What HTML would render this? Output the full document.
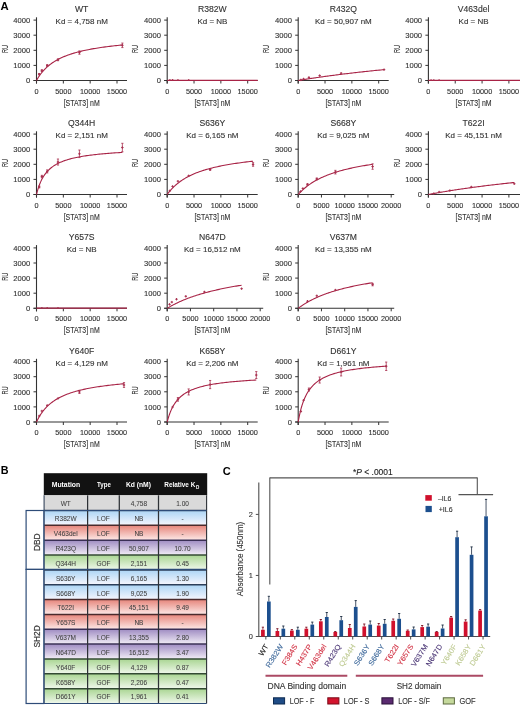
<!DOCTYPE html>
<html><head><meta charset="utf-8"><style>
html,body{margin:0;padding:0;background:#fff;}
svg{display:block;font-family:"Liberation Sans",sans-serif;filter:blur(0.3px);}
</style></head><body>
<svg width="520" height="706" viewBox="0 0 520 706">
<defs><linearGradient id="gg" x1="0" y1="0" x2="0" y2="1"><stop offset="0" stop-color="#dadada"/><stop offset="1" stop-color="#dadada"/></linearGradient><linearGradient id="gb" x1="0" y1="0" x2="0" y2="1"><stop offset="0" stop-color="#acd5f5"/><stop offset="1" stop-color="#f6f6fd"/></linearGradient><linearGradient id="gr" x1="0" y1="0" x2="0" y2="1"><stop offset="0" stop-color="#e6857b"/><stop offset="1" stop-color="#fde9e7"/></linearGradient><linearGradient id="gp" x1="0" y1="0" x2="0" y2="1"><stop offset="0" stop-color="#9f8cc2"/><stop offset="1" stop-color="#f2edf6"/></linearGradient><linearGradient id="gn" x1="0" y1="0" x2="0" y2="1"><stop offset="0" stop-color="#a9d592"/><stop offset="1" stop-color="#f0f8ec"/></linearGradient></defs>
<rect width="520" height="706" fill="#fff"/>
<text x="0.60" y="9.70" font-size="11.3" font-weight="bold" fill="#000">A</text>
<text x="81.70" y="12.00" font-size="8.6" text-anchor="middle" fill="#333" stroke="#333" stroke-width="0.12">WT</text>
<text x="81.70" y="24.00" font-size="8.0" text-anchor="middle" fill="#333" stroke="#333" stroke-width="0.12">Kd = 4,758 nM</text>
<line x1="36.50" y1="83.50" x2="36.50" y2="17.30" stroke="#333" stroke-width="1.1"/>
<line x1="33.50" y1="80.50" x2="36.50" y2="80.50" stroke="#333" stroke-width="1"/>
<text x="30.20" y="83.20" font-size="7.6" text-anchor="end" fill="#333" stroke="#333" stroke-width="0.12">0</text>
<line x1="33.50" y1="65.40" x2="36.50" y2="65.40" stroke="#333" stroke-width="1"/>
<text x="30.20" y="68.10" font-size="7.6" text-anchor="end" fill="#333" stroke="#333" stroke-width="0.12">1000</text>
<line x1="33.50" y1="50.30" x2="36.50" y2="50.30" stroke="#333" stroke-width="1"/>
<text x="30.20" y="53.00" font-size="7.6" text-anchor="end" fill="#333" stroke="#333" stroke-width="0.12">2000</text>
<line x1="33.50" y1="35.20" x2="36.50" y2="35.20" stroke="#333" stroke-width="1"/>
<text x="30.20" y="37.90" font-size="7.6" text-anchor="end" fill="#333" stroke="#333" stroke-width="0.12">3000</text>
<line x1="33.50" y1="20.10" x2="36.50" y2="20.10" stroke="#333" stroke-width="1"/>
<text x="30.20" y="22.80" font-size="7.6" text-anchor="end" fill="#333" stroke="#333" stroke-width="0.12">4000</text>
<line x1="33.50" y1="80.50" x2="127.00" y2="80.50" stroke="#333" stroke-width="1.1"/>
<line x1="36.50" y1="80.50" x2="36.50" y2="83.50" stroke="#333" stroke-width="1"/>
<text x="36.50" y="93.60" font-size="7.3" text-anchor="middle" fill="#333" stroke="#333" stroke-width="0.12">0</text>
<line x1="63.33" y1="80.50" x2="63.33" y2="83.50" stroke="#333" stroke-width="1"/>
<text x="63.33" y="93.60" font-size="7.3" text-anchor="middle" fill="#333" stroke="#333" stroke-width="0.12">5000</text>
<line x1="90.17" y1="80.50" x2="90.17" y2="83.50" stroke="#333" stroke-width="1"/>
<text x="90.17" y="93.60" font-size="7.3" text-anchor="middle" fill="#333" stroke="#333" stroke-width="0.12">10000</text>
<line x1="117.00" y1="80.50" x2="117.00" y2="83.50" stroke="#333" stroke-width="1"/>
<text x="117.00" y="93.60" font-size="7.3" text-anchor="middle" fill="#333" stroke="#333" stroke-width="0.12">15000</text>
<text x="81.70" y="105.50" font-size="8.3" text-anchor="middle" fill="#333" stroke="#333" stroke-width="0.12" textLength="36.0" lengthAdjust="spacingAndGlyphs">[STAT3] nM</text>
<text x="0" y="0" font-size="9.0" fill="#333" stroke="#333" stroke-width="0.12" text-anchor="middle" textLength="8.2" lengthAdjust="spacingAndGlyphs" transform="translate(7.60,48.90) rotate(-90)">RU</text>
<polyline points="36.50,80.50 36.62,80.28 36.84,79.90 37.12,79.40 37.46,78.83 37.84,78.20 38.26,77.52 38.72,76.81 39.22,76.07 39.74,75.31 40.29,74.54 40.88,73.76 41.49,72.97 42.12,72.19 42.79,71.40 43.47,70.62 44.18,69.85 44.91,69.09 45.66,68.34 46.44,67.60 47.23,66.87 48.05,66.16 48.88,65.46 49.74,64.78 50.61,64.11 51.50,63.46 52.41,62.82 53.34,62.20 54.28,61.60 55.24,61.01 56.22,60.43 57.21,59.87 58.22,59.33 59.25,58.80 60.29,58.29 61.35,57.79 62.42,57.30 63.51,56.83 64.61,56.37 65.73,55.92 66.86,55.49 68.00,55.06 69.16,54.65 70.34,54.25 71.52,53.86 72.72,53.49 73.94,53.12 75.17,52.76 76.41,52.42 77.66,52.08 78.93,51.75 80.21,51.43 81.50,51.12 82.80,50.82 84.12,50.52 85.45,50.23 86.79,49.95 88.14,49.68 89.51,49.42 90.88,49.16 92.27,48.91 93.67,48.66 95.08,48.43 96.51,48.19 97.94,47.97 99.39,47.74 100.84,47.53 102.31,47.32 103.79,47.11 105.28,46.91 106.78,46.72 108.29,46.53 109.81,46.34 111.35,46.16 112.89,45.98 114.44,45.81 116.01,45.64 117.58,45.48 119.17,45.31 120.76,45.16 122.37,45.00" fill="none" stroke="#a82346" stroke-width="1.1"/>
<line x1="39.18" y1="73.55" x2="39.18" y2="74.76" stroke="#a8304f" stroke-width="0.8"/>
<line x1="38.08" y1="73.55" x2="40.28" y2="73.55" stroke="#a8304f" stroke-width="0.8"/>
<line x1="38.08" y1="74.76" x2="40.28" y2="74.76" stroke="#a8304f" stroke-width="0.8"/>
<line x1="37.98" y1="74.16" x2="40.38" y2="74.16" stroke="#a8304f" stroke-width="1.0"/>
<line x1="39.18" y1="72.96" x2="39.18" y2="75.36" stroke="#a8304f" stroke-width="1.0"/>
<line x1="41.87" y1="69.78" x2="41.87" y2="71.59" stroke="#a8304f" stroke-width="0.8"/>
<line x1="40.77" y1="69.78" x2="42.97" y2="69.78" stroke="#a8304f" stroke-width="0.8"/>
<line x1="40.77" y1="71.59" x2="42.97" y2="71.59" stroke="#a8304f" stroke-width="0.8"/>
<line x1="40.67" y1="70.69" x2="43.07" y2="70.69" stroke="#a8304f" stroke-width="1.0"/>
<line x1="41.87" y1="69.48" x2="41.87" y2="71.89" stroke="#a8304f" stroke-width="1.0"/>
<line x1="47.23" y1="64.64" x2="47.23" y2="66.46" stroke="#a8304f" stroke-width="0.8"/>
<line x1="46.13" y1="64.64" x2="48.33" y2="64.64" stroke="#a8304f" stroke-width="0.8"/>
<line x1="46.13" y1="66.46" x2="48.33" y2="66.46" stroke="#a8304f" stroke-width="0.8"/>
<line x1="46.03" y1="65.55" x2="48.43" y2="65.55" stroke="#a8304f" stroke-width="1.0"/>
<line x1="47.23" y1="64.35" x2="47.23" y2="66.75" stroke="#a8304f" stroke-width="1.0"/>
<line x1="57.97" y1="58.91" x2="57.97" y2="60.72" stroke="#a8304f" stroke-width="0.8"/>
<line x1="56.87" y1="58.91" x2="59.07" y2="58.91" stroke="#a8304f" stroke-width="0.8"/>
<line x1="56.87" y1="60.72" x2="59.07" y2="60.72" stroke="#a8304f" stroke-width="0.8"/>
<line x1="56.77" y1="59.81" x2="59.17" y2="59.81" stroke="#a8304f" stroke-width="1.0"/>
<line x1="57.97" y1="58.61" x2="57.97" y2="61.01" stroke="#a8304f" stroke-width="1.0"/>
<line x1="79.43" y1="50.90" x2="79.43" y2="54.23" stroke="#a8304f" stroke-width="0.8"/>
<line x1="78.33" y1="50.90" x2="80.53" y2="50.90" stroke="#a8304f" stroke-width="0.8"/>
<line x1="78.33" y1="54.23" x2="80.53" y2="54.23" stroke="#a8304f" stroke-width="0.8"/>
<line x1="78.23" y1="52.56" x2="80.63" y2="52.56" stroke="#a8304f" stroke-width="1.0"/>
<line x1="79.43" y1="51.36" x2="79.43" y2="53.77" stroke="#a8304f" stroke-width="1.0"/>
<line x1="122.37" y1="43.05" x2="122.37" y2="47.58" stroke="#a8304f" stroke-width="0.8"/>
<line x1="121.27" y1="43.05" x2="123.47" y2="43.05" stroke="#a8304f" stroke-width="0.8"/>
<line x1="121.27" y1="47.58" x2="123.47" y2="47.58" stroke="#a8304f" stroke-width="0.8"/>
<line x1="121.17" y1="45.32" x2="123.57" y2="45.32" stroke="#a8304f" stroke-width="1.0"/>
<line x1="122.37" y1="44.12" x2="122.37" y2="46.52" stroke="#a8304f" stroke-width="1.0"/>
<text x="212.40" y="12.00" font-size="8.6" text-anchor="middle" fill="#333" stroke="#333" stroke-width="0.12">R382W</text>
<text x="212.40" y="24.00" font-size="8.0" text-anchor="middle" fill="#333" stroke="#333" stroke-width="0.12">Kd = NB</text>
<line x1="167.20" y1="83.50" x2="167.20" y2="17.30" stroke="#333" stroke-width="1.1"/>
<line x1="164.20" y1="80.50" x2="167.20" y2="80.50" stroke="#333" stroke-width="1"/>
<text x="160.90" y="83.20" font-size="7.6" text-anchor="end" fill="#333" stroke="#333" stroke-width="0.12">0</text>
<line x1="164.20" y1="65.40" x2="167.20" y2="65.40" stroke="#333" stroke-width="1"/>
<text x="160.90" y="68.10" font-size="7.6" text-anchor="end" fill="#333" stroke="#333" stroke-width="0.12">1000</text>
<line x1="164.20" y1="50.30" x2="167.20" y2="50.30" stroke="#333" stroke-width="1"/>
<text x="160.90" y="53.00" font-size="7.6" text-anchor="end" fill="#333" stroke="#333" stroke-width="0.12">2000</text>
<line x1="164.20" y1="35.20" x2="167.20" y2="35.20" stroke="#333" stroke-width="1"/>
<text x="160.90" y="37.90" font-size="7.6" text-anchor="end" fill="#333" stroke="#333" stroke-width="0.12">3000</text>
<line x1="164.20" y1="20.10" x2="167.20" y2="20.10" stroke="#333" stroke-width="1"/>
<text x="160.90" y="22.80" font-size="7.6" text-anchor="end" fill="#333" stroke="#333" stroke-width="0.12">4000</text>
<line x1="164.20" y1="80.50" x2="257.70" y2="80.50" stroke="#333" stroke-width="1.1"/>
<line x1="167.20" y1="80.50" x2="167.20" y2="83.50" stroke="#333" stroke-width="1"/>
<text x="167.20" y="93.60" font-size="7.3" text-anchor="middle" fill="#333" stroke="#333" stroke-width="0.12">0</text>
<line x1="194.03" y1="80.50" x2="194.03" y2="83.50" stroke="#333" stroke-width="1"/>
<text x="194.03" y="93.60" font-size="7.3" text-anchor="middle" fill="#333" stroke="#333" stroke-width="0.12">5000</text>
<line x1="220.87" y1="80.50" x2="220.87" y2="83.50" stroke="#333" stroke-width="1"/>
<text x="220.87" y="93.60" font-size="7.3" text-anchor="middle" fill="#333" stroke="#333" stroke-width="0.12">10000</text>
<line x1="247.70" y1="80.50" x2="247.70" y2="83.50" stroke="#333" stroke-width="1"/>
<text x="247.70" y="93.60" font-size="7.3" text-anchor="middle" fill="#333" stroke="#333" stroke-width="0.12">15000</text>
<text x="212.40" y="105.50" font-size="8.3" text-anchor="middle" fill="#333" stroke="#333" stroke-width="0.12" textLength="36.0" lengthAdjust="spacingAndGlyphs">[STAT3] nM</text>
<text x="0" y="0" font-size="9.0" fill="#333" stroke="#333" stroke-width="0.12" text-anchor="middle" textLength="8.2" lengthAdjust="spacingAndGlyphs" transform="translate(138.30,48.90) rotate(-90)">RU</text>
<line x1="167.20" y1="80.30" x2="257.70" y2="80.30" stroke="#a82346" stroke-width="1.2"/>
<rect x="169.18" y="79.20" width="1.40" height="1.40" fill="#a8304f"/>
<rect x="171.87" y="79.05" width="1.40" height="1.40" fill="#a8304f"/>
<rect x="177.23" y="79.20" width="1.40" height="1.40" fill="#a8304f"/>
<rect x="187.97" y="79.20" width="1.40" height="1.40" fill="#a8304f"/>
<text x="343.40" y="12.00" font-size="8.6" text-anchor="middle" fill="#333" stroke="#333" stroke-width="0.12">R432Q</text>
<text x="343.40" y="24.00" font-size="8.0" text-anchor="middle" fill="#333" stroke="#333" stroke-width="0.12">Kd = 50,907 nM</text>
<line x1="298.20" y1="83.50" x2="298.20" y2="17.30" stroke="#333" stroke-width="1.1"/>
<line x1="295.20" y1="80.50" x2="298.20" y2="80.50" stroke="#333" stroke-width="1"/>
<text x="291.90" y="83.20" font-size="7.6" text-anchor="end" fill="#333" stroke="#333" stroke-width="0.12">0</text>
<line x1="295.20" y1="65.40" x2="298.20" y2="65.40" stroke="#333" stroke-width="1"/>
<text x="291.90" y="68.10" font-size="7.6" text-anchor="end" fill="#333" stroke="#333" stroke-width="0.12">1000</text>
<line x1="295.20" y1="50.30" x2="298.20" y2="50.30" stroke="#333" stroke-width="1"/>
<text x="291.90" y="53.00" font-size="7.6" text-anchor="end" fill="#333" stroke="#333" stroke-width="0.12">2000</text>
<line x1="295.20" y1="35.20" x2="298.20" y2="35.20" stroke="#333" stroke-width="1"/>
<text x="291.90" y="37.90" font-size="7.6" text-anchor="end" fill="#333" stroke="#333" stroke-width="0.12">3000</text>
<line x1="295.20" y1="20.10" x2="298.20" y2="20.10" stroke="#333" stroke-width="1"/>
<text x="291.90" y="22.80" font-size="7.6" text-anchor="end" fill="#333" stroke="#333" stroke-width="0.12">4000</text>
<line x1="295.20" y1="80.50" x2="388.70" y2="80.50" stroke="#333" stroke-width="1.1"/>
<line x1="298.20" y1="80.50" x2="298.20" y2="83.50" stroke="#333" stroke-width="1"/>
<text x="298.20" y="93.60" font-size="7.3" text-anchor="middle" fill="#333" stroke="#333" stroke-width="0.12">0</text>
<line x1="325.03" y1="80.50" x2="325.03" y2="83.50" stroke="#333" stroke-width="1"/>
<text x="325.03" y="93.60" font-size="7.3" text-anchor="middle" fill="#333" stroke="#333" stroke-width="0.12">5000</text>
<line x1="351.87" y1="80.50" x2="351.87" y2="83.50" stroke="#333" stroke-width="1"/>
<text x="351.87" y="93.60" font-size="7.3" text-anchor="middle" fill="#333" stroke="#333" stroke-width="0.12">10000</text>
<line x1="378.70" y1="80.50" x2="378.70" y2="83.50" stroke="#333" stroke-width="1"/>
<text x="378.70" y="93.60" font-size="7.3" text-anchor="middle" fill="#333" stroke="#333" stroke-width="0.12">15000</text>
<text x="343.40" y="105.50" font-size="8.3" text-anchor="middle" fill="#333" stroke="#333" stroke-width="0.12" textLength="36.0" lengthAdjust="spacingAndGlyphs">[STAT3] nM</text>
<text x="0" y="0" font-size="9.0" fill="#333" stroke="#333" stroke-width="0.12" text-anchor="middle" textLength="8.2" lengthAdjust="spacingAndGlyphs" transform="translate(269.30,48.90) rotate(-90)">RU</text>
<polyline points="298.20,80.50 298.32,80.48 298.54,80.44 298.82,80.40 299.16,80.34 299.54,80.28 299.96,80.21 300.42,80.13 300.92,80.05 301.44,79.97 301.99,79.88 302.58,79.78 303.19,79.68 303.82,79.58 304.49,79.48 305.17,79.37 305.88,79.26 306.61,79.14 307.36,79.02 308.14,78.90 308.93,78.78 309.75,78.66 310.58,78.53 311.44,78.40 312.31,78.27 313.20,78.13 314.11,78.00 315.04,77.86 315.98,77.72 316.94,77.58 317.92,77.44 318.91,77.30 319.92,77.15 320.95,77.01 321.99,76.86 323.05,76.71 324.12,76.56 325.21,76.41 326.31,76.26 327.43,76.11 328.56,75.95 329.70,75.80 330.86,75.64 332.04,75.49 333.22,75.33 334.42,75.18 335.64,75.02 336.87,74.86 338.11,74.71 339.36,74.55 340.63,74.39 341.91,74.23 343.20,74.07 344.50,73.91 345.82,73.75 347.15,73.59 348.49,73.43 349.84,73.27 351.21,73.11 352.58,72.95 353.97,72.79 355.37,72.63 356.78,72.47 358.21,72.31 359.64,72.15 361.09,71.99 362.54,71.83 364.01,71.67 365.49,71.51 366.98,71.36 368.48,71.20 369.99,71.04 371.51,70.88 373.05,70.72 374.59,70.57 376.14,70.41 377.71,70.25 379.28,70.09 380.87,69.94 382.46,69.78 384.07,69.63" fill="none" stroke="#a82346" stroke-width="1.1"/>
<line x1="299.68" y1="79.90" x2="302.08" y2="79.90" stroke="#a8304f" stroke-width="1.0"/>
<line x1="300.88" y1="78.70" x2="300.88" y2="81.10" stroke="#a8304f" stroke-width="1.0"/>
<line x1="302.37" y1="78.99" x2="304.77" y2="78.99" stroke="#a8304f" stroke-width="1.0"/>
<line x1="303.57" y1="77.79" x2="303.57" y2="80.19" stroke="#a8304f" stroke-width="1.0"/>
<line x1="307.73" y1="77.40" x2="310.13" y2="77.40" stroke="#a8304f" stroke-width="1.0"/>
<line x1="308.93" y1="76.20" x2="308.93" y2="78.60" stroke="#a8304f" stroke-width="1.0"/>
<line x1="318.47" y1="75.59" x2="320.87" y2="75.59" stroke="#a8304f" stroke-width="1.0"/>
<line x1="319.67" y1="74.39" x2="319.67" y2="76.79" stroke="#a8304f" stroke-width="1.0"/>
<line x1="339.93" y1="73.21" x2="342.33" y2="73.21" stroke="#a8304f" stroke-width="1.0"/>
<line x1="341.13" y1="72.01" x2="341.13" y2="74.41" stroke="#a8304f" stroke-width="1.0"/>
<line x1="382.87" y1="69.63" x2="385.27" y2="69.63" stroke="#a8304f" stroke-width="1.0"/>
<line x1="384.07" y1="68.43" x2="384.07" y2="70.83" stroke="#a8304f" stroke-width="1.0"/>
<text x="473.60" y="12.00" font-size="8.6" text-anchor="middle" fill="#333" stroke="#333" stroke-width="0.12">V463del</text>
<text x="473.60" y="24.00" font-size="8.0" text-anchor="middle" fill="#333" stroke="#333" stroke-width="0.12">Kd = NB</text>
<line x1="428.40" y1="83.50" x2="428.40" y2="17.30" stroke="#333" stroke-width="1.1"/>
<line x1="425.40" y1="80.50" x2="428.40" y2="80.50" stroke="#333" stroke-width="1"/>
<text x="422.10" y="83.20" font-size="7.6" text-anchor="end" fill="#333" stroke="#333" stroke-width="0.12">0</text>
<line x1="425.40" y1="65.40" x2="428.40" y2="65.40" stroke="#333" stroke-width="1"/>
<text x="422.10" y="68.10" font-size="7.6" text-anchor="end" fill="#333" stroke="#333" stroke-width="0.12">1000</text>
<line x1="425.40" y1="50.30" x2="428.40" y2="50.30" stroke="#333" stroke-width="1"/>
<text x="422.10" y="53.00" font-size="7.6" text-anchor="end" fill="#333" stroke="#333" stroke-width="0.12">2000</text>
<line x1="425.40" y1="35.20" x2="428.40" y2="35.20" stroke="#333" stroke-width="1"/>
<text x="422.10" y="37.90" font-size="7.6" text-anchor="end" fill="#333" stroke="#333" stroke-width="0.12">3000</text>
<line x1="425.40" y1="20.10" x2="428.40" y2="20.10" stroke="#333" stroke-width="1"/>
<text x="422.10" y="22.80" font-size="7.6" text-anchor="end" fill="#333" stroke="#333" stroke-width="0.12">4000</text>
<line x1="425.40" y1="80.50" x2="523.40" y2="80.50" stroke="#333" stroke-width="1.1"/>
<line x1="428.40" y1="80.50" x2="428.40" y2="83.50" stroke="#333" stroke-width="1"/>
<text x="428.40" y="93.60" font-size="7.3" text-anchor="middle" fill="#333" stroke="#333" stroke-width="0.12">0</text>
<line x1="455.23" y1="80.50" x2="455.23" y2="83.50" stroke="#333" stroke-width="1"/>
<text x="455.23" y="93.60" font-size="7.3" text-anchor="middle" fill="#333" stroke="#333" stroke-width="0.12">5000</text>
<line x1="482.07" y1="80.50" x2="482.07" y2="83.50" stroke="#333" stroke-width="1"/>
<text x="482.07" y="93.60" font-size="7.3" text-anchor="middle" fill="#333" stroke="#333" stroke-width="0.12">10000</text>
<line x1="508.90" y1="80.50" x2="508.90" y2="83.50" stroke="#333" stroke-width="1"/>
<text x="508.90" y="93.60" font-size="7.3" text-anchor="middle" fill="#333" stroke="#333" stroke-width="0.12">15000</text>
<text x="473.60" y="105.50" font-size="8.3" text-anchor="middle" fill="#333" stroke="#333" stroke-width="0.12" textLength="36.0" lengthAdjust="spacingAndGlyphs">[STAT3] nM</text>
<text x="0" y="0" font-size="9.0" fill="#333" stroke="#333" stroke-width="0.12" text-anchor="middle" textLength="8.2" lengthAdjust="spacingAndGlyphs" transform="translate(399.50,48.90) rotate(-90)">RU</text>
<line x1="428.40" y1="80.30" x2="523.40" y2="80.30" stroke="#a82346" stroke-width="1.2"/>
<rect x="430.38" y="79.35" width="1.40" height="1.40" fill="#a8304f"/>
<rect x="433.07" y="79.35" width="1.40" height="1.40" fill="#a8304f"/>
<rect x="438.43" y="79.35" width="1.40" height="1.40" fill="#a8304f"/>
<text x="81.70" y="126.00" font-size="8.6" text-anchor="middle" fill="#333" stroke="#333" stroke-width="0.12">Q344H</text>
<text x="81.70" y="138.00" font-size="8.0" text-anchor="middle" fill="#333" stroke="#333" stroke-width="0.12">Kd = 2,151 nM</text>
<line x1="36.50" y1="197.50" x2="36.50" y2="131.30" stroke="#333" stroke-width="1.1"/>
<line x1="33.50" y1="194.50" x2="36.50" y2="194.50" stroke="#333" stroke-width="1"/>
<text x="30.20" y="197.20" font-size="7.6" text-anchor="end" fill="#333" stroke="#333" stroke-width="0.12">0</text>
<line x1="33.50" y1="179.40" x2="36.50" y2="179.40" stroke="#333" stroke-width="1"/>
<text x="30.20" y="182.10" font-size="7.6" text-anchor="end" fill="#333" stroke="#333" stroke-width="0.12">1000</text>
<line x1="33.50" y1="164.30" x2="36.50" y2="164.30" stroke="#333" stroke-width="1"/>
<text x="30.20" y="167.00" font-size="7.6" text-anchor="end" fill="#333" stroke="#333" stroke-width="0.12">2000</text>
<line x1="33.50" y1="149.20" x2="36.50" y2="149.20" stroke="#333" stroke-width="1"/>
<text x="30.20" y="151.90" font-size="7.6" text-anchor="end" fill="#333" stroke="#333" stroke-width="0.12">3000</text>
<line x1="33.50" y1="134.10" x2="36.50" y2="134.10" stroke="#333" stroke-width="1"/>
<text x="30.20" y="136.80" font-size="7.6" text-anchor="end" fill="#333" stroke="#333" stroke-width="0.12">4000</text>
<line x1="33.50" y1="194.50" x2="127.00" y2="194.50" stroke="#333" stroke-width="1.1"/>
<line x1="36.50" y1="194.50" x2="36.50" y2="197.50" stroke="#333" stroke-width="1"/>
<text x="36.50" y="207.60" font-size="7.3" text-anchor="middle" fill="#333" stroke="#333" stroke-width="0.12">0</text>
<line x1="63.33" y1="194.50" x2="63.33" y2="197.50" stroke="#333" stroke-width="1"/>
<text x="63.33" y="207.60" font-size="7.3" text-anchor="middle" fill="#333" stroke="#333" stroke-width="0.12">5000</text>
<line x1="90.17" y1="194.50" x2="90.17" y2="197.50" stroke="#333" stroke-width="1"/>
<text x="90.17" y="207.60" font-size="7.3" text-anchor="middle" fill="#333" stroke="#333" stroke-width="0.12">10000</text>
<line x1="117.00" y1="194.50" x2="117.00" y2="197.50" stroke="#333" stroke-width="1"/>
<text x="117.00" y="207.60" font-size="7.3" text-anchor="middle" fill="#333" stroke="#333" stroke-width="0.12">15000</text>
<text x="81.70" y="219.50" font-size="8.3" text-anchor="middle" fill="#333" stroke="#333" stroke-width="0.12" textLength="36.0" lengthAdjust="spacingAndGlyphs">[STAT3] nM</text>
<text x="0" y="0" font-size="9.0" fill="#333" stroke="#333" stroke-width="0.12" text-anchor="middle" textLength="8.2" lengthAdjust="spacingAndGlyphs" transform="translate(7.60,162.90) rotate(-90)">RU</text>
<polyline points="36.50,194.50 36.62,194.01 36.84,193.14 37.12,192.05 37.46,190.83 37.84,189.53 38.26,188.17 38.72,186.79 39.22,185.40 39.74,184.03 40.29,182.68 40.88,181.37 41.49,180.09 42.12,178.85 42.79,177.66 43.47,176.52 44.18,175.42 44.91,174.37 45.66,173.36 46.44,172.40 47.23,171.49 48.05,170.61 48.88,169.78 49.74,168.99 50.61,168.23 51.50,167.51 52.41,166.82 53.34,166.17 54.28,165.54 55.24,164.94 56.22,164.37 57.21,163.83 58.22,163.31 59.25,162.82 60.29,162.34 61.35,161.89 62.42,161.46 63.51,161.04 64.61,160.64 65.73,160.26 66.86,159.90 68.00,159.55 69.16,159.21 70.34,158.89 71.52,158.58 72.72,158.28 73.94,157.99 75.17,157.72 76.41,157.45 77.66,157.20 78.93,156.95 80.21,156.72 81.50,156.49 82.80,156.27 84.12,156.06 85.45,155.85 86.79,155.66 88.14,155.46 89.51,155.28 90.88,155.10 92.27,154.93 93.67,154.76 95.08,154.60 96.51,154.44 97.94,154.29 99.39,154.15 100.84,154.00 102.31,153.87 103.79,153.73 105.28,153.60 106.78,153.48 108.29,153.35 109.81,153.24 111.35,153.12 112.89,153.01 114.44,152.90 116.01,152.79 117.58,152.69 119.17,152.59 120.76,152.49 122.37,152.40" fill="none" stroke="#a82346" stroke-width="1.1"/>
<line x1="39.18" y1="186.04" x2="39.18" y2="187.86" stroke="#a8304f" stroke-width="0.8"/>
<line x1="38.08" y1="186.04" x2="40.28" y2="186.04" stroke="#a8304f" stroke-width="0.8"/>
<line x1="38.08" y1="187.86" x2="40.28" y2="187.86" stroke="#a8304f" stroke-width="0.8"/>
<line x1="37.98" y1="186.95" x2="40.38" y2="186.95" stroke="#a8304f" stroke-width="1.0"/>
<line x1="39.18" y1="185.75" x2="39.18" y2="188.15" stroke="#a8304f" stroke-width="1.0"/>
<line x1="41.87" y1="175.32" x2="41.87" y2="177.74" stroke="#a8304f" stroke-width="0.8"/>
<line x1="40.77" y1="175.32" x2="42.97" y2="175.32" stroke="#a8304f" stroke-width="0.8"/>
<line x1="40.77" y1="177.74" x2="42.97" y2="177.74" stroke="#a8304f" stroke-width="0.8"/>
<line x1="40.67" y1="176.53" x2="43.07" y2="176.53" stroke="#a8304f" stroke-width="1.0"/>
<line x1="41.87" y1="175.33" x2="41.87" y2="177.73" stroke="#a8304f" stroke-width="1.0"/>
<line x1="47.23" y1="169.89" x2="47.23" y2="172.91" stroke="#a8304f" stroke-width="0.8"/>
<line x1="46.13" y1="169.89" x2="48.33" y2="169.89" stroke="#a8304f" stroke-width="0.8"/>
<line x1="46.13" y1="172.91" x2="48.33" y2="172.91" stroke="#a8304f" stroke-width="0.8"/>
<line x1="46.03" y1="171.40" x2="48.43" y2="171.40" stroke="#a8304f" stroke-width="1.0"/>
<line x1="47.23" y1="170.20" x2="47.23" y2="172.60" stroke="#a8304f" stroke-width="1.0"/>
<line x1="57.97" y1="159.01" x2="57.97" y2="165.06" stroke="#a8304f" stroke-width="0.8"/>
<line x1="56.87" y1="159.01" x2="59.07" y2="159.01" stroke="#a8304f" stroke-width="0.8"/>
<line x1="56.87" y1="165.06" x2="59.07" y2="165.06" stroke="#a8304f" stroke-width="0.8"/>
<line x1="56.77" y1="162.03" x2="59.17" y2="162.03" stroke="#a8304f" stroke-width="1.0"/>
<line x1="57.97" y1="160.84" x2="57.97" y2="163.23" stroke="#a8304f" stroke-width="1.0"/>
<line x1="79.43" y1="150.03" x2="79.43" y2="157.58" stroke="#a8304f" stroke-width="0.8"/>
<line x1="78.33" y1="150.03" x2="80.53" y2="150.03" stroke="#a8304f" stroke-width="0.8"/>
<line x1="78.33" y1="157.58" x2="80.53" y2="157.58" stroke="#a8304f" stroke-width="0.8"/>
<line x1="78.23" y1="153.81" x2="80.63" y2="153.81" stroke="#a8304f" stroke-width="1.0"/>
<line x1="79.43" y1="152.61" x2="79.43" y2="155.01" stroke="#a8304f" stroke-width="1.0"/>
<line x1="122.37" y1="143.31" x2="122.37" y2="151.77" stroke="#a8304f" stroke-width="0.8"/>
<line x1="121.27" y1="143.31" x2="123.47" y2="143.31" stroke="#a8304f" stroke-width="0.8"/>
<line x1="121.27" y1="151.77" x2="123.47" y2="151.77" stroke="#a8304f" stroke-width="0.8"/>
<line x1="121.17" y1="147.54" x2="123.57" y2="147.54" stroke="#a8304f" stroke-width="1.0"/>
<line x1="122.37" y1="146.34" x2="122.37" y2="148.74" stroke="#a8304f" stroke-width="1.0"/>
<text x="212.40" y="126.00" font-size="8.6" text-anchor="middle" fill="#333" stroke="#333" stroke-width="0.12">S636Y</text>
<text x="212.40" y="138.00" font-size="8.0" text-anchor="middle" fill="#333" stroke="#333" stroke-width="0.12">Kd = 6,165 nM</text>
<line x1="167.20" y1="197.50" x2="167.20" y2="131.30" stroke="#333" stroke-width="1.1"/>
<line x1="164.20" y1="194.50" x2="167.20" y2="194.50" stroke="#333" stroke-width="1"/>
<text x="160.90" y="197.20" font-size="7.6" text-anchor="end" fill="#333" stroke="#333" stroke-width="0.12">0</text>
<line x1="164.20" y1="179.40" x2="167.20" y2="179.40" stroke="#333" stroke-width="1"/>
<text x="160.90" y="182.10" font-size="7.6" text-anchor="end" fill="#333" stroke="#333" stroke-width="0.12">1000</text>
<line x1="164.20" y1="164.30" x2="167.20" y2="164.30" stroke="#333" stroke-width="1"/>
<text x="160.90" y="167.00" font-size="7.6" text-anchor="end" fill="#333" stroke="#333" stroke-width="0.12">2000</text>
<line x1="164.20" y1="149.20" x2="167.20" y2="149.20" stroke="#333" stroke-width="1"/>
<text x="160.90" y="151.90" font-size="7.6" text-anchor="end" fill="#333" stroke="#333" stroke-width="0.12">3000</text>
<line x1="164.20" y1="134.10" x2="167.20" y2="134.10" stroke="#333" stroke-width="1"/>
<text x="160.90" y="136.80" font-size="7.6" text-anchor="end" fill="#333" stroke="#333" stroke-width="0.12">4000</text>
<line x1="164.20" y1="194.50" x2="257.70" y2="194.50" stroke="#333" stroke-width="1.1"/>
<line x1="167.20" y1="194.50" x2="167.20" y2="197.50" stroke="#333" stroke-width="1"/>
<text x="167.20" y="207.60" font-size="7.3" text-anchor="middle" fill="#333" stroke="#333" stroke-width="0.12">0</text>
<line x1="194.03" y1="194.50" x2="194.03" y2="197.50" stroke="#333" stroke-width="1"/>
<text x="194.03" y="207.60" font-size="7.3" text-anchor="middle" fill="#333" stroke="#333" stroke-width="0.12">5000</text>
<line x1="220.87" y1="194.50" x2="220.87" y2="197.50" stroke="#333" stroke-width="1"/>
<text x="220.87" y="207.60" font-size="7.3" text-anchor="middle" fill="#333" stroke="#333" stroke-width="0.12">10000</text>
<line x1="247.70" y1="194.50" x2="247.70" y2="197.50" stroke="#333" stroke-width="1"/>
<text x="247.70" y="207.60" font-size="7.3" text-anchor="middle" fill="#333" stroke="#333" stroke-width="0.12">15000</text>
<text x="212.40" y="219.50" font-size="8.3" text-anchor="middle" fill="#333" stroke="#333" stroke-width="0.12" textLength="36.0" lengthAdjust="spacingAndGlyphs">[STAT3] nM</text>
<text x="0" y="0" font-size="9.0" fill="#333" stroke="#333" stroke-width="0.12" text-anchor="middle" textLength="8.2" lengthAdjust="spacingAndGlyphs" transform="translate(138.30,162.90) rotate(-90)">RU</text>
<polyline points="167.20,194.50 167.32,194.33 167.54,194.03 167.82,193.65 168.16,193.20 168.54,192.70 168.96,192.17 169.42,191.60 169.92,191.00 170.44,190.39 170.99,189.75 171.58,189.11 172.19,188.46 172.82,187.80 173.49,187.13 174.17,186.47 174.88,185.81 175.61,185.15 176.36,184.49 177.14,183.84 177.93,183.20 178.75,182.56 179.58,181.94 180.44,181.32 181.31,180.71 182.20,180.11 183.11,179.52 184.04,178.94 184.98,178.38 185.94,177.82 186.92,177.27 187.91,176.74 188.92,176.22 189.95,175.70 190.99,175.20 192.05,174.71 193.12,174.24 194.21,173.77 195.31,173.31 196.43,172.86 197.56,172.43 198.70,172.00 199.86,171.58 201.04,171.18 202.22,170.78 203.42,170.39 204.64,170.01 205.87,169.64 207.11,169.28 208.36,168.93 209.63,168.58 210.91,168.24 212.20,167.92 213.50,167.59 214.82,167.28 216.15,166.97 217.49,166.68 218.84,166.38 220.21,166.10 221.58,165.82 222.97,165.55 224.37,165.28 225.78,165.02 227.21,164.76 228.64,164.52 230.09,164.27 231.54,164.03 233.01,163.80 234.49,163.57 235.98,163.35 237.48,163.13 238.99,162.92 240.51,162.71 242.05,162.51 243.59,162.31 245.14,162.12 246.71,161.92 248.28,161.74 249.87,161.55 251.46,161.38 253.07,161.20" fill="none" stroke="#a82346" stroke-width="1.1"/>
<line x1="168.68" y1="190.72" x2="171.08" y2="190.72" stroke="#a8304f" stroke-width="1.0"/>
<line x1="169.88" y1="189.53" x2="169.88" y2="191.92" stroke="#a8304f" stroke-width="1.0"/>
<line x1="171.37" y1="186.42" x2="173.77" y2="186.42" stroke="#a8304f" stroke-width="1.0"/>
<line x1="172.57" y1="185.22" x2="172.57" y2="187.62" stroke="#a8304f" stroke-width="1.0"/>
<line x1="176.73" y1="181.21" x2="179.13" y2="181.21" stroke="#a8304f" stroke-width="1.0"/>
<line x1="177.93" y1="180.01" x2="177.93" y2="182.41" stroke="#a8304f" stroke-width="1.0"/>
<line x1="187.47" y1="175.78" x2="189.87" y2="175.78" stroke="#a8304f" stroke-width="1.0"/>
<line x1="188.67" y1="174.58" x2="188.67" y2="176.98" stroke="#a8304f" stroke-width="1.0"/>
<line x1="210.13" y1="168.53" x2="210.13" y2="170.34" stroke="#a8304f" stroke-width="0.8"/>
<line x1="209.03" y1="168.53" x2="211.23" y2="168.53" stroke="#a8304f" stroke-width="0.8"/>
<line x1="209.03" y1="170.34" x2="211.23" y2="170.34" stroke="#a8304f" stroke-width="0.8"/>
<line x1="208.93" y1="169.43" x2="211.33" y2="169.43" stroke="#a8304f" stroke-width="1.0"/>
<line x1="210.13" y1="168.23" x2="210.13" y2="170.63" stroke="#a8304f" stroke-width="1.0"/>
<line x1="253.07" y1="162.64" x2="253.07" y2="166.26" stroke="#a8304f" stroke-width="0.8"/>
<line x1="251.97" y1="162.64" x2="254.17" y2="162.64" stroke="#a8304f" stroke-width="0.8"/>
<line x1="251.97" y1="166.26" x2="254.17" y2="166.26" stroke="#a8304f" stroke-width="0.8"/>
<line x1="251.87" y1="164.45" x2="254.27" y2="164.45" stroke="#a8304f" stroke-width="1.0"/>
<line x1="253.07" y1="163.25" x2="253.07" y2="165.65" stroke="#a8304f" stroke-width="1.0"/>
<text x="343.40" y="126.00" font-size="8.6" text-anchor="middle" fill="#333" stroke="#333" stroke-width="0.12">S668Y</text>
<text x="343.40" y="138.00" font-size="8.0" text-anchor="middle" fill="#333" stroke="#333" stroke-width="0.12">Kd = 9,025 nM</text>
<line x1="298.20" y1="197.50" x2="298.20" y2="131.30" stroke="#333" stroke-width="1.1"/>
<line x1="295.20" y1="194.50" x2="298.20" y2="194.50" stroke="#333" stroke-width="1"/>
<text x="291.90" y="197.20" font-size="7.6" text-anchor="end" fill="#333" stroke="#333" stroke-width="0.12">0</text>
<line x1="295.20" y1="179.40" x2="298.20" y2="179.40" stroke="#333" stroke-width="1"/>
<text x="291.90" y="182.10" font-size="7.6" text-anchor="end" fill="#333" stroke="#333" stroke-width="0.12">1000</text>
<line x1="295.20" y1="164.30" x2="298.20" y2="164.30" stroke="#333" stroke-width="1"/>
<text x="291.90" y="167.00" font-size="7.6" text-anchor="end" fill="#333" stroke="#333" stroke-width="0.12">2000</text>
<line x1="295.20" y1="149.20" x2="298.20" y2="149.20" stroke="#333" stroke-width="1"/>
<text x="291.90" y="151.90" font-size="7.6" text-anchor="end" fill="#333" stroke="#333" stroke-width="0.12">3000</text>
<line x1="295.20" y1="134.10" x2="298.20" y2="134.10" stroke="#333" stroke-width="1"/>
<text x="291.90" y="136.80" font-size="7.6" text-anchor="end" fill="#333" stroke="#333" stroke-width="0.12">4000</text>
<line x1="295.20" y1="194.50" x2="394.20" y2="194.50" stroke="#333" stroke-width="1.1"/>
<line x1="298.20" y1="194.50" x2="298.20" y2="197.50" stroke="#333" stroke-width="1"/>
<text x="298.20" y="207.60" font-size="7.3" text-anchor="middle" fill="#333" stroke="#333" stroke-width="0.12">0</text>
<line x1="321.45" y1="194.50" x2="321.45" y2="197.50" stroke="#333" stroke-width="1"/>
<text x="321.45" y="207.60" font-size="7.3" text-anchor="middle" fill="#333" stroke="#333" stroke-width="0.12">5000</text>
<line x1="344.70" y1="194.50" x2="344.70" y2="197.50" stroke="#333" stroke-width="1"/>
<text x="344.70" y="207.60" font-size="7.3" text-anchor="middle" fill="#333" stroke="#333" stroke-width="0.12">10000</text>
<line x1="367.95" y1="194.50" x2="367.95" y2="197.50" stroke="#333" stroke-width="1"/>
<text x="367.95" y="207.60" font-size="7.3" text-anchor="middle" fill="#333" stroke="#333" stroke-width="0.12">15000</text>
<line x1="391.20" y1="194.50" x2="391.20" y2="197.50" stroke="#333" stroke-width="1"/>
<text x="391.20" y="207.60" font-size="7.3" text-anchor="middle" fill="#333" stroke="#333" stroke-width="0.12">20000</text>
<text x="343.40" y="219.50" font-size="8.3" text-anchor="middle" fill="#333" stroke="#333" stroke-width="0.12" textLength="36.0" lengthAdjust="spacingAndGlyphs">[STAT3] nM</text>
<text x="0" y="0" font-size="9.0" fill="#333" stroke="#333" stroke-width="0.12" text-anchor="middle" textLength="8.2" lengthAdjust="spacingAndGlyphs" transform="translate(269.30,162.90) rotate(-90)">RU</text>
<polyline points="298.20,194.50 298.30,194.38 298.49,194.17 298.74,193.90 299.03,193.58 299.36,193.23 299.73,192.84 300.13,192.43 300.55,191.99 301.01,191.54 301.49,191.07 301.99,190.58 302.52,190.09 303.07,189.59 303.65,189.07 304.24,188.56 304.85,188.04 305.49,187.51 306.14,186.98 306.81,186.46 307.50,185.93 308.21,185.41 308.93,184.88 309.67,184.36 310.43,183.84 311.20,183.33 311.98,182.82 312.79,182.32 313.61,181.82 314.44,181.32 315.29,180.83 316.15,180.35 317.02,179.88 317.91,179.41 318.81,178.94 319.73,178.48 320.66,178.03 321.60,177.59 322.56,177.15 323.52,176.72 324.50,176.30 325.50,175.89 326.50,175.48 327.52,175.07 328.55,174.68 329.59,174.29 330.64,173.91 331.70,173.53 332.78,173.16 333.86,172.80 334.96,172.44 336.07,172.10 337.19,171.75 338.32,171.42 339.46,171.08 340.61,170.76 341.77,170.44 342.95,170.13 344.13,169.82 345.32,169.52 346.52,169.22 347.74,168.93 348.96,168.64 350.19,168.36 351.44,168.09 352.69,167.82 353.95,167.55 355.22,167.29 356.50,167.04 357.80,166.78 359.10,166.54 360.41,166.30 361.72,166.06 363.05,165.82 364.39,165.59 365.74,165.37 367.09,165.15 368.45,164.93 369.83,164.72 371.21,164.51 372.60,164.30" fill="none" stroke="#a82346" stroke-width="1.1"/>
<line x1="299.32" y1="191.48" x2="301.72" y2="191.48" stroke="#a8304f" stroke-width="1.0"/>
<line x1="300.52" y1="190.28" x2="300.52" y2="192.68" stroke="#a8304f" stroke-width="1.0"/>
<line x1="301.65" y1="188.46" x2="304.05" y2="188.46" stroke="#a8304f" stroke-width="1.0"/>
<line x1="302.85" y1="187.26" x2="302.85" y2="189.66" stroke="#a8304f" stroke-width="1.0"/>
<line x1="307.50" y1="183.63" x2="307.50" y2="185.44" stroke="#a8304f" stroke-width="0.8"/>
<line x1="306.40" y1="183.63" x2="308.60" y2="183.63" stroke="#a8304f" stroke-width="0.8"/>
<line x1="306.40" y1="185.44" x2="308.60" y2="185.44" stroke="#a8304f" stroke-width="0.8"/>
<line x1="306.30" y1="184.53" x2="308.70" y2="184.53" stroke="#a8304f" stroke-width="1.0"/>
<line x1="307.50" y1="183.33" x2="307.50" y2="185.73" stroke="#a8304f" stroke-width="1.0"/>
<line x1="316.80" y1="178.04" x2="316.80" y2="179.85" stroke="#a8304f" stroke-width="0.8"/>
<line x1="315.70" y1="178.04" x2="317.90" y2="178.04" stroke="#a8304f" stroke-width="0.8"/>
<line x1="315.70" y1="179.85" x2="317.90" y2="179.85" stroke="#a8304f" stroke-width="0.8"/>
<line x1="315.60" y1="178.95" x2="318.00" y2="178.95" stroke="#a8304f" stroke-width="1.0"/>
<line x1="316.80" y1="177.75" x2="316.80" y2="180.15" stroke="#a8304f" stroke-width="1.0"/>
<line x1="335.40" y1="170.34" x2="335.40" y2="173.96" stroke="#a8304f" stroke-width="0.8"/>
<line x1="334.30" y1="170.34" x2="336.50" y2="170.34" stroke="#a8304f" stroke-width="0.8"/>
<line x1="334.30" y1="173.96" x2="336.50" y2="173.96" stroke="#a8304f" stroke-width="0.8"/>
<line x1="334.20" y1="172.15" x2="336.60" y2="172.15" stroke="#a8304f" stroke-width="1.0"/>
<line x1="335.40" y1="170.95" x2="335.40" y2="173.35" stroke="#a8304f" stroke-width="1.0"/>
<line x1="372.60" y1="163.85" x2="372.60" y2="169.28" stroke="#a8304f" stroke-width="0.8"/>
<line x1="371.50" y1="163.85" x2="373.70" y2="163.85" stroke="#a8304f" stroke-width="0.8"/>
<line x1="371.50" y1="169.28" x2="373.70" y2="169.28" stroke="#a8304f" stroke-width="0.8"/>
<line x1="371.40" y1="166.56" x2="373.80" y2="166.56" stroke="#a8304f" stroke-width="1.0"/>
<line x1="372.60" y1="165.37" x2="372.60" y2="167.76" stroke="#a8304f" stroke-width="1.0"/>
<text x="473.60" y="126.00" font-size="8.6" text-anchor="middle" fill="#333" stroke="#333" stroke-width="0.12">T622I</text>
<text x="473.60" y="138.00" font-size="8.0" text-anchor="middle" fill="#333" stroke="#333" stroke-width="0.12">Kd = 45,151 nM</text>
<line x1="428.40" y1="197.50" x2="428.40" y2="131.30" stroke="#333" stroke-width="1.1"/>
<line x1="425.40" y1="194.50" x2="428.40" y2="194.50" stroke="#333" stroke-width="1"/>
<text x="422.10" y="197.20" font-size="7.6" text-anchor="end" fill="#333" stroke="#333" stroke-width="0.12">0</text>
<line x1="425.40" y1="179.40" x2="428.40" y2="179.40" stroke="#333" stroke-width="1"/>
<text x="422.10" y="182.10" font-size="7.6" text-anchor="end" fill="#333" stroke="#333" stroke-width="0.12">1000</text>
<line x1="425.40" y1="164.30" x2="428.40" y2="164.30" stroke="#333" stroke-width="1"/>
<text x="422.10" y="167.00" font-size="7.6" text-anchor="end" fill="#333" stroke="#333" stroke-width="0.12">2000</text>
<line x1="425.40" y1="149.20" x2="428.40" y2="149.20" stroke="#333" stroke-width="1"/>
<text x="422.10" y="151.90" font-size="7.6" text-anchor="end" fill="#333" stroke="#333" stroke-width="0.12">3000</text>
<line x1="425.40" y1="134.10" x2="428.40" y2="134.10" stroke="#333" stroke-width="1"/>
<text x="422.10" y="136.80" font-size="7.6" text-anchor="end" fill="#333" stroke="#333" stroke-width="0.12">4000</text>
<line x1="425.40" y1="194.50" x2="523.40" y2="194.50" stroke="#333" stroke-width="1.1"/>
<line x1="428.40" y1="194.50" x2="428.40" y2="197.50" stroke="#333" stroke-width="1"/>
<text x="428.40" y="207.60" font-size="7.3" text-anchor="middle" fill="#333" stroke="#333" stroke-width="0.12">0</text>
<line x1="455.23" y1="194.50" x2="455.23" y2="197.50" stroke="#333" stroke-width="1"/>
<text x="455.23" y="207.60" font-size="7.3" text-anchor="middle" fill="#333" stroke="#333" stroke-width="0.12">5000</text>
<line x1="482.07" y1="194.50" x2="482.07" y2="197.50" stroke="#333" stroke-width="1"/>
<text x="482.07" y="207.60" font-size="7.3" text-anchor="middle" fill="#333" stroke="#333" stroke-width="0.12">10000</text>
<line x1="508.90" y1="194.50" x2="508.90" y2="197.50" stroke="#333" stroke-width="1"/>
<text x="508.90" y="207.60" font-size="7.3" text-anchor="middle" fill="#333" stroke="#333" stroke-width="0.12">15000</text>
<text x="473.60" y="219.50" font-size="8.3" text-anchor="middle" fill="#333" stroke="#333" stroke-width="0.12" textLength="36.0" lengthAdjust="spacingAndGlyphs">[STAT3] nM</text>
<text x="0" y="0" font-size="9.0" fill="#333" stroke="#333" stroke-width="0.12" text-anchor="middle" textLength="8.2" lengthAdjust="spacingAndGlyphs" transform="translate(399.50,162.90) rotate(-90)">RU</text>
<polyline points="428.40,194.50 428.52,194.48 428.74,194.44 429.02,194.38 429.36,194.32 429.74,194.25 430.16,194.17 430.62,194.08 431.12,193.99 431.64,193.89 432.19,193.79 432.78,193.69 433.39,193.57 434.02,193.46 434.69,193.34 435.37,193.22 436.08,193.09 436.81,192.96 437.56,192.83 438.34,192.69 439.13,192.55 439.95,192.41 440.78,192.27 441.64,192.12 442.51,191.98 443.40,191.83 444.31,191.67 445.24,191.52 446.18,191.36 447.14,191.21 448.12,191.05 449.11,190.89 450.12,190.73 451.15,190.56 452.19,190.40 453.25,190.23 454.32,190.07 455.41,189.90 456.51,189.73 457.63,189.56 458.76,189.39 459.90,189.22 461.06,189.05 462.24,188.88 463.42,188.71 464.62,188.53 465.84,188.36 467.07,188.19 468.31,188.01 469.56,187.84 470.83,187.66 472.11,187.49 473.40,187.32 474.70,187.14 476.02,186.97 477.35,186.79 478.69,186.62 480.04,186.44 481.41,186.27 482.78,186.09 484.17,185.92 485.57,185.74 486.98,185.57 488.41,185.39 489.84,185.22 491.29,185.05 492.74,184.87 494.21,184.70 495.69,184.53 497.18,184.36 498.68,184.19 500.19,184.01 501.71,183.84 503.25,183.67 504.79,183.50 506.34,183.34 507.91,183.17 509.48,183.00 511.07,182.83 512.66,182.66 514.27,182.50" fill="none" stroke="#a82346" stroke-width="1.1"/>
<line x1="432.57" y1="193.59" x2="434.97" y2="193.59" stroke="#a8304f" stroke-width="1.0"/>
<line x1="433.77" y1="192.39" x2="433.77" y2="194.79" stroke="#a8304f" stroke-width="1.0"/>
<line x1="437.93" y1="192.01" x2="440.33" y2="192.01" stroke="#a8304f" stroke-width="1.0"/>
<line x1="439.13" y1="190.81" x2="439.13" y2="193.21" stroke="#a8304f" stroke-width="1.0"/>
<line x1="448.67" y1="190.50" x2="451.07" y2="190.50" stroke="#a8304f" stroke-width="1.0"/>
<line x1="449.87" y1="189.30" x2="449.87" y2="191.70" stroke="#a8304f" stroke-width="1.0"/>
<line x1="470.13" y1="186.95" x2="472.53" y2="186.95" stroke="#a8304f" stroke-width="1.0"/>
<line x1="471.33" y1="185.75" x2="471.33" y2="188.15" stroke="#a8304f" stroke-width="1.0"/>
<line x1="513.07" y1="183.78" x2="515.47" y2="183.78" stroke="#a8304f" stroke-width="1.0"/>
<line x1="514.27" y1="182.58" x2="514.27" y2="184.98" stroke="#a8304f" stroke-width="1.0"/>
<text x="81.70" y="239.80" font-size="8.6" text-anchor="middle" fill="#333" stroke="#333" stroke-width="0.12">Y657S</text>
<text x="81.70" y="251.80" font-size="8.0" text-anchor="middle" fill="#333" stroke="#333" stroke-width="0.12">Kd = NB</text>
<line x1="36.50" y1="311.30" x2="36.50" y2="245.10" stroke="#333" stroke-width="1.1"/>
<line x1="33.50" y1="308.30" x2="36.50" y2="308.30" stroke="#333" stroke-width="1"/>
<text x="30.20" y="311.00" font-size="7.6" text-anchor="end" fill="#333" stroke="#333" stroke-width="0.12">0</text>
<line x1="33.50" y1="293.20" x2="36.50" y2="293.20" stroke="#333" stroke-width="1"/>
<text x="30.20" y="295.90" font-size="7.6" text-anchor="end" fill="#333" stroke="#333" stroke-width="0.12">1000</text>
<line x1="33.50" y1="278.10" x2="36.50" y2="278.10" stroke="#333" stroke-width="1"/>
<text x="30.20" y="280.80" font-size="7.6" text-anchor="end" fill="#333" stroke="#333" stroke-width="0.12">2000</text>
<line x1="33.50" y1="263.00" x2="36.50" y2="263.00" stroke="#333" stroke-width="1"/>
<text x="30.20" y="265.70" font-size="7.6" text-anchor="end" fill="#333" stroke="#333" stroke-width="0.12">3000</text>
<line x1="33.50" y1="247.90" x2="36.50" y2="247.90" stroke="#333" stroke-width="1"/>
<text x="30.20" y="250.60" font-size="7.6" text-anchor="end" fill="#333" stroke="#333" stroke-width="0.12">4000</text>
<line x1="33.50" y1="308.30" x2="127.00" y2="308.30" stroke="#333" stroke-width="1.1"/>
<line x1="36.50" y1="308.30" x2="36.50" y2="311.30" stroke="#333" stroke-width="1"/>
<text x="36.50" y="321.40" font-size="7.3" text-anchor="middle" fill="#333" stroke="#333" stroke-width="0.12">0</text>
<line x1="63.33" y1="308.30" x2="63.33" y2="311.30" stroke="#333" stroke-width="1"/>
<text x="63.33" y="321.40" font-size="7.3" text-anchor="middle" fill="#333" stroke="#333" stroke-width="0.12">5000</text>
<line x1="90.17" y1="308.30" x2="90.17" y2="311.30" stroke="#333" stroke-width="1"/>
<text x="90.17" y="321.40" font-size="7.3" text-anchor="middle" fill="#333" stroke="#333" stroke-width="0.12">10000</text>
<line x1="117.00" y1="308.30" x2="117.00" y2="311.30" stroke="#333" stroke-width="1"/>
<text x="117.00" y="321.40" font-size="7.3" text-anchor="middle" fill="#333" stroke="#333" stroke-width="0.12">15000</text>
<text x="81.70" y="333.30" font-size="8.3" text-anchor="middle" fill="#333" stroke="#333" stroke-width="0.12" textLength="36.0" lengthAdjust="spacingAndGlyphs">[STAT3] nM</text>
<text x="0" y="0" font-size="9.0" fill="#333" stroke="#333" stroke-width="0.12" text-anchor="middle" textLength="8.2" lengthAdjust="spacingAndGlyphs" transform="translate(7.60,276.70) rotate(-90)">RU</text>
<line x1="36.50" y1="308.10" x2="127.00" y2="308.10" stroke="#a82346" stroke-width="1.2"/>
<rect x="41.17" y="307.15" width="1.40" height="1.40" fill="#a8304f"/>
<rect x="46.53" y="307.15" width="1.40" height="1.40" fill="#a8304f"/>
<rect x="57.27" y="307.15" width="1.40" height="1.40" fill="#a8304f"/>
<text x="212.40" y="239.80" font-size="8.6" text-anchor="middle" fill="#333" stroke="#333" stroke-width="0.12">N647D</text>
<text x="212.40" y="251.80" font-size="8.0" text-anchor="middle" fill="#333" stroke="#333" stroke-width="0.12">Kd = 16,512 nM</text>
<line x1="167.20" y1="311.30" x2="167.20" y2="245.10" stroke="#333" stroke-width="1.1"/>
<line x1="164.20" y1="308.30" x2="167.20" y2="308.30" stroke="#333" stroke-width="1"/>
<text x="160.90" y="311.00" font-size="7.6" text-anchor="end" fill="#333" stroke="#333" stroke-width="0.12">0</text>
<line x1="164.20" y1="293.20" x2="167.20" y2="293.20" stroke="#333" stroke-width="1"/>
<text x="160.90" y="295.90" font-size="7.6" text-anchor="end" fill="#333" stroke="#333" stroke-width="0.12">1000</text>
<line x1="164.20" y1="278.10" x2="167.20" y2="278.10" stroke="#333" stroke-width="1"/>
<text x="160.90" y="280.80" font-size="7.6" text-anchor="end" fill="#333" stroke="#333" stroke-width="0.12">2000</text>
<line x1="164.20" y1="263.00" x2="167.20" y2="263.00" stroke="#333" stroke-width="1"/>
<text x="160.90" y="265.70" font-size="7.6" text-anchor="end" fill="#333" stroke="#333" stroke-width="0.12">3000</text>
<line x1="164.20" y1="247.90" x2="167.20" y2="247.90" stroke="#333" stroke-width="1"/>
<text x="160.90" y="250.60" font-size="7.6" text-anchor="end" fill="#333" stroke="#333" stroke-width="0.12">4000</text>
<line x1="164.20" y1="308.30" x2="263.20" y2="308.30" stroke="#333" stroke-width="1.1"/>
<line x1="167.20" y1="308.30" x2="167.20" y2="311.30" stroke="#333" stroke-width="1"/>
<text x="167.20" y="321.40" font-size="7.3" text-anchor="middle" fill="#333" stroke="#333" stroke-width="0.12">0</text>
<line x1="190.45" y1="308.30" x2="190.45" y2="311.30" stroke="#333" stroke-width="1"/>
<text x="190.45" y="321.40" font-size="7.3" text-anchor="middle" fill="#333" stroke="#333" stroke-width="0.12">5000</text>
<line x1="213.70" y1="308.30" x2="213.70" y2="311.30" stroke="#333" stroke-width="1"/>
<text x="213.70" y="321.40" font-size="7.3" text-anchor="middle" fill="#333" stroke="#333" stroke-width="0.12">10000</text>
<line x1="236.95" y1="308.30" x2="236.95" y2="311.30" stroke="#333" stroke-width="1"/>
<text x="236.95" y="321.40" font-size="7.3" text-anchor="middle" fill="#333" stroke="#333" stroke-width="0.12">15000</text>
<line x1="260.20" y1="308.30" x2="260.20" y2="311.30" stroke="#333" stroke-width="1"/>
<text x="260.20" y="321.40" font-size="7.3" text-anchor="middle" fill="#333" stroke="#333" stroke-width="0.12">20000</text>
<text x="212.40" y="333.30" font-size="8.3" text-anchor="middle" fill="#333" stroke="#333" stroke-width="0.12" textLength="36.0" lengthAdjust="spacingAndGlyphs">[STAT3] nM</text>
<text x="0" y="0" font-size="9.0" fill="#333" stroke="#333" stroke-width="0.12" text-anchor="middle" textLength="8.2" lengthAdjust="spacingAndGlyphs" transform="translate(138.30,276.70) rotate(-90)">RU</text>
<polyline points="167.20,308.30 167.30,308.24 167.49,308.12 167.74,307.97 168.03,307.80 168.36,307.60 168.73,307.38 169.13,307.15 169.55,306.90 170.01,306.64 170.49,306.37 170.99,306.09 171.52,305.80 172.07,305.50 172.65,305.19 173.24,304.88 173.85,304.56 174.49,304.23 175.14,303.90 175.81,303.57 176.50,303.23 177.21,302.89 177.93,302.54 178.67,302.20 179.43,301.85 180.20,301.50 180.98,301.15 181.79,300.80 182.61,300.45 183.44,300.10 184.29,299.76 185.15,299.41 186.02,299.06 186.91,298.71 187.81,298.36 188.73,298.02 189.66,297.68 190.60,297.33 191.56,296.99 192.52,296.66 193.50,296.32 194.50,295.99 195.50,295.66 196.52,295.33 197.55,295.00 198.59,294.68 199.64,294.36 200.70,294.04 201.78,293.72 202.86,293.41 203.96,293.10 205.07,292.79 206.19,292.49 207.32,292.19 208.46,291.89 209.61,291.60 210.77,291.30 211.95,291.01 213.13,290.73 214.32,290.45 215.52,290.17 216.74,289.89 217.96,289.62 219.19,289.35 220.44,289.08 221.69,288.81 222.95,288.55 224.22,288.29 225.50,288.04 226.80,287.79 228.10,287.54 229.41,287.29 230.72,287.04 232.05,286.80 233.39,286.57 234.74,286.33 236.09,286.10 237.45,285.87 238.83,285.64 240.21,285.42 241.60,285.20" fill="none" stroke="#a82346" stroke-width="1.1"/>
<line x1="168.32" y1="304.37" x2="170.72" y2="304.37" stroke="#a8304f" stroke-width="1.0"/>
<line x1="169.52" y1="303.17" x2="169.52" y2="305.57" stroke="#a8304f" stroke-width="1.0"/>
<line x1="170.65" y1="302.11" x2="173.05" y2="302.11" stroke="#a8304f" stroke-width="1.0"/>
<line x1="171.85" y1="300.91" x2="171.85" y2="303.31" stroke="#a8304f" stroke-width="1.0"/>
<line x1="175.30" y1="299.24" x2="177.70" y2="299.24" stroke="#a8304f" stroke-width="1.0"/>
<line x1="176.50" y1="298.04" x2="176.50" y2="300.44" stroke="#a8304f" stroke-width="1.0"/>
<line x1="184.60" y1="296.30" x2="187.00" y2="296.30" stroke="#a8304f" stroke-width="1.0"/>
<line x1="185.80" y1="295.10" x2="185.80" y2="297.50" stroke="#a8304f" stroke-width="1.0"/>
<line x1="203.20" y1="291.92" x2="205.60" y2="291.92" stroke="#a8304f" stroke-width="1.0"/>
<line x1="204.40" y1="290.72" x2="204.40" y2="293.12" stroke="#a8304f" stroke-width="1.0"/>
<line x1="240.40" y1="288.67" x2="242.80" y2="288.67" stroke="#a8304f" stroke-width="1.0"/>
<line x1="241.60" y1="287.47" x2="241.60" y2="289.87" stroke="#a8304f" stroke-width="1.0"/>
<text x="343.40" y="239.80" font-size="8.6" text-anchor="middle" fill="#333" stroke="#333" stroke-width="0.12">V637M</text>
<text x="343.40" y="251.80" font-size="8.0" text-anchor="middle" fill="#333" stroke="#333" stroke-width="0.12">Kd = 13,355 nM</text>
<line x1="298.20" y1="311.30" x2="298.20" y2="245.10" stroke="#333" stroke-width="1.1"/>
<line x1="295.20" y1="308.30" x2="298.20" y2="308.30" stroke="#333" stroke-width="1"/>
<text x="291.90" y="311.00" font-size="7.6" text-anchor="end" fill="#333" stroke="#333" stroke-width="0.12">0</text>
<line x1="295.20" y1="293.20" x2="298.20" y2="293.20" stroke="#333" stroke-width="1"/>
<text x="291.90" y="295.90" font-size="7.6" text-anchor="end" fill="#333" stroke="#333" stroke-width="0.12">1000</text>
<line x1="295.20" y1="278.10" x2="298.20" y2="278.10" stroke="#333" stroke-width="1"/>
<text x="291.90" y="280.80" font-size="7.6" text-anchor="end" fill="#333" stroke="#333" stroke-width="0.12">2000</text>
<line x1="295.20" y1="263.00" x2="298.20" y2="263.00" stroke="#333" stroke-width="1"/>
<text x="291.90" y="265.70" font-size="7.6" text-anchor="end" fill="#333" stroke="#333" stroke-width="0.12">3000</text>
<line x1="295.20" y1="247.90" x2="298.20" y2="247.90" stroke="#333" stroke-width="1"/>
<text x="291.90" y="250.60" font-size="7.6" text-anchor="end" fill="#333" stroke="#333" stroke-width="0.12">4000</text>
<line x1="295.20" y1="308.30" x2="394.20" y2="308.30" stroke="#333" stroke-width="1.1"/>
<line x1="298.20" y1="308.30" x2="298.20" y2="311.30" stroke="#333" stroke-width="1"/>
<text x="298.20" y="321.40" font-size="7.3" text-anchor="middle" fill="#333" stroke="#333" stroke-width="0.12">0</text>
<line x1="321.45" y1="308.30" x2="321.45" y2="311.30" stroke="#333" stroke-width="1"/>
<text x="321.45" y="321.40" font-size="7.3" text-anchor="middle" fill="#333" stroke="#333" stroke-width="0.12">5000</text>
<line x1="344.70" y1="308.30" x2="344.70" y2="311.30" stroke="#333" stroke-width="1"/>
<text x="344.70" y="321.40" font-size="7.3" text-anchor="middle" fill="#333" stroke="#333" stroke-width="0.12">10000</text>
<line x1="367.95" y1="308.30" x2="367.95" y2="311.30" stroke="#333" stroke-width="1"/>
<text x="367.95" y="321.40" font-size="7.3" text-anchor="middle" fill="#333" stroke="#333" stroke-width="0.12">15000</text>
<line x1="391.20" y1="308.30" x2="391.20" y2="311.30" stroke="#333" stroke-width="1"/>
<text x="391.20" y="321.40" font-size="7.3" text-anchor="middle" fill="#333" stroke="#333" stroke-width="0.12">20000</text>
<text x="343.40" y="333.30" font-size="8.3" text-anchor="middle" fill="#333" stroke="#333" stroke-width="0.12" textLength="36.0" lengthAdjust="spacingAndGlyphs">[STAT3] nM</text>
<text x="0" y="0" font-size="9.0" fill="#333" stroke="#333" stroke-width="0.12" text-anchor="middle" textLength="8.2" lengthAdjust="spacingAndGlyphs" transform="translate(269.30,276.70) rotate(-90)">RU</text>
<polyline points="298.20,308.30 298.30,308.22 298.49,308.08 298.74,307.89 299.03,307.68 299.36,307.44 299.73,307.17 300.13,306.89 300.55,306.59 301.01,306.27 301.49,305.94 301.99,305.60 302.52,305.24 303.07,304.88 303.65,304.51 304.24,304.14 304.85,303.75 305.49,303.37 306.14,302.98 306.81,302.58 307.50,302.18 308.21,301.78 308.93,301.38 309.67,300.98 310.43,300.58 311.20,300.17 311.98,299.77 312.79,299.37 313.61,298.97 314.44,298.57 315.29,298.17 316.15,297.77 317.02,297.38 317.91,296.99 318.81,296.60 319.73,296.21 320.66,295.83 321.60,295.45 322.56,295.07 323.52,294.70 324.50,294.33 325.50,293.96 326.50,293.60 327.52,293.24 328.55,292.88 329.59,292.53 330.64,292.19 331.70,291.84 332.78,291.50 333.86,291.17 334.96,290.84 336.07,290.51 337.19,290.19 338.32,289.87 339.46,289.55 340.61,289.24 341.77,288.94 342.95,288.63 344.13,288.33 345.32,288.04 346.52,287.75 347.74,287.46 348.96,287.18 350.19,286.90 351.44,286.62 352.69,286.35 353.95,286.08 355.22,285.82 356.50,285.56 357.80,285.30 359.10,285.05 360.41,284.80 361.72,284.55 363.05,284.31 364.39,284.07 365.74,283.84 367.09,283.60 368.45,283.37 369.83,283.15 371.21,282.92 372.60,282.70" fill="none" stroke="#a82346" stroke-width="1.1"/>
<line x1="306.30" y1="301.20" x2="308.70" y2="301.20" stroke="#a8304f" stroke-width="1.0"/>
<line x1="307.50" y1="300.00" x2="307.50" y2="302.40" stroke="#a8304f" stroke-width="1.0"/>
<line x1="315.60" y1="295.77" x2="318.00" y2="295.77" stroke="#a8304f" stroke-width="1.0"/>
<line x1="316.80" y1="294.57" x2="316.80" y2="296.97" stroke="#a8304f" stroke-width="1.0"/>
<line x1="334.20" y1="290.03" x2="336.60" y2="290.03" stroke="#a8304f" stroke-width="1.0"/>
<line x1="335.40" y1="288.83" x2="335.40" y2="291.23" stroke="#a8304f" stroke-width="1.0"/>
<line x1="372.60" y1="283.38" x2="372.60" y2="285.80" stroke="#a8304f" stroke-width="0.8"/>
<line x1="371.50" y1="283.38" x2="373.70" y2="283.38" stroke="#a8304f" stroke-width="0.8"/>
<line x1="371.50" y1="285.80" x2="373.70" y2="285.80" stroke="#a8304f" stroke-width="0.8"/>
<line x1="371.40" y1="284.59" x2="373.80" y2="284.59" stroke="#a8304f" stroke-width="1.0"/>
<line x1="372.60" y1="283.39" x2="372.60" y2="285.79" stroke="#a8304f" stroke-width="1.0"/>
<text x="81.70" y="353.50" font-size="8.6" text-anchor="middle" fill="#333" stroke="#333" stroke-width="0.12">Y640F</text>
<text x="81.70" y="365.50" font-size="8.0" text-anchor="middle" fill="#333" stroke="#333" stroke-width="0.12">Kd = 4,129 nM</text>
<line x1="36.50" y1="425.00" x2="36.50" y2="358.80" stroke="#333" stroke-width="1.1"/>
<line x1="33.50" y1="422.00" x2="36.50" y2="422.00" stroke="#333" stroke-width="1"/>
<text x="30.20" y="424.70" font-size="7.6" text-anchor="end" fill="#333" stroke="#333" stroke-width="0.12">0</text>
<line x1="33.50" y1="406.90" x2="36.50" y2="406.90" stroke="#333" stroke-width="1"/>
<text x="30.20" y="409.60" font-size="7.6" text-anchor="end" fill="#333" stroke="#333" stroke-width="0.12">1000</text>
<line x1="33.50" y1="391.80" x2="36.50" y2="391.80" stroke="#333" stroke-width="1"/>
<text x="30.20" y="394.50" font-size="7.6" text-anchor="end" fill="#333" stroke="#333" stroke-width="0.12">2000</text>
<line x1="33.50" y1="376.70" x2="36.50" y2="376.70" stroke="#333" stroke-width="1"/>
<text x="30.20" y="379.40" font-size="7.6" text-anchor="end" fill="#333" stroke="#333" stroke-width="0.12">3000</text>
<line x1="33.50" y1="361.60" x2="36.50" y2="361.60" stroke="#333" stroke-width="1"/>
<text x="30.20" y="364.30" font-size="7.6" text-anchor="end" fill="#333" stroke="#333" stroke-width="0.12">4000</text>
<line x1="33.50" y1="422.00" x2="127.00" y2="422.00" stroke="#333" stroke-width="1.1"/>
<line x1="36.50" y1="422.00" x2="36.50" y2="425.00" stroke="#333" stroke-width="1"/>
<text x="36.50" y="435.10" font-size="7.3" text-anchor="middle" fill="#333" stroke="#333" stroke-width="0.12">0</text>
<line x1="63.33" y1="422.00" x2="63.33" y2="425.00" stroke="#333" stroke-width="1"/>
<text x="63.33" y="435.10" font-size="7.3" text-anchor="middle" fill="#333" stroke="#333" stroke-width="0.12">5000</text>
<line x1="90.17" y1="422.00" x2="90.17" y2="425.00" stroke="#333" stroke-width="1"/>
<text x="90.17" y="435.10" font-size="7.3" text-anchor="middle" fill="#333" stroke="#333" stroke-width="0.12">10000</text>
<line x1="117.00" y1="422.00" x2="117.00" y2="425.00" stroke="#333" stroke-width="1"/>
<text x="117.00" y="435.10" font-size="7.3" text-anchor="middle" fill="#333" stroke="#333" stroke-width="0.12">15000</text>
<text x="81.70" y="447.00" font-size="8.3" text-anchor="middle" fill="#333" stroke="#333" stroke-width="0.12" textLength="36.0" lengthAdjust="spacingAndGlyphs">[STAT3] nM</text>
<text x="0" y="0" font-size="9.0" fill="#333" stroke="#333" stroke-width="0.12" text-anchor="middle" textLength="8.2" lengthAdjust="spacingAndGlyphs" transform="translate(7.60,390.40) rotate(-90)">RU</text>
<polyline points="36.50,422.00 36.62,421.74 36.85,421.26 37.14,420.66 37.48,419.97 37.87,419.22 38.30,418.41 38.76,417.56 39.27,416.68 39.80,415.79 40.37,414.88 40.96,413.97 41.58,413.06 42.23,412.15 42.90,411.25 43.60,410.37 44.32,409.49 45.07,408.63 45.84,407.79 46.62,406.97 47.43,406.16 48.26,405.38 49.12,404.61 49.98,403.87 50.87,403.14 51.78,402.44 52.71,401.75 53.65,401.09 54.61,400.44 55.59,399.82 56.59,399.21 57.60,398.62 58.63,398.05 59.68,397.50 60.74,396.96 61.81,396.44 62.91,395.94 64.01,395.45 65.14,394.98 66.28,394.52 67.43,394.08 68.59,393.65 69.78,393.23 70.97,392.83 72.18,392.43 73.40,392.05 74.64,391.68 75.89,391.33 77.16,390.98 78.43,390.64 79.72,390.32 81.03,390.00 82.34,389.69 83.67,389.39 85.01,389.10 86.37,388.82 87.73,388.54 89.11,388.28 90.50,388.02 91.90,387.77 93.32,387.52 94.74,387.28 96.18,387.05 97.63,386.82 99.09,386.60 100.57,386.39 102.05,386.18 103.55,385.98 105.05,385.78 106.57,385.59 108.10,385.40 109.64,385.22 111.19,385.04 112.75,384.86 114.32,384.69 115.91,384.53 117.50,384.37 119.10,384.21 120.72,384.06 122.34,383.91 123.98,383.76" fill="none" stroke="#a82346" stroke-width="1.1"/>
<line x1="37.98" y1="415.96" x2="40.38" y2="415.96" stroke="#a8304f" stroke-width="1.0"/>
<line x1="39.18" y1="414.76" x2="39.18" y2="417.16" stroke="#a8304f" stroke-width="1.0"/>
<line x1="40.67" y1="410.98" x2="43.07" y2="410.98" stroke="#a8304f" stroke-width="1.0"/>
<line x1="41.87" y1="409.78" x2="41.87" y2="412.18" stroke="#a8304f" stroke-width="1.0"/>
<line x1="46.03" y1="405.39" x2="48.43" y2="405.39" stroke="#a8304f" stroke-width="1.0"/>
<line x1="47.23" y1="404.19" x2="47.23" y2="406.59" stroke="#a8304f" stroke-width="1.0"/>
<line x1="56.77" y1="398.44" x2="59.17" y2="398.44" stroke="#a8304f" stroke-width="1.0"/>
<line x1="57.97" y1="397.24" x2="57.97" y2="399.64" stroke="#a8304f" stroke-width="1.0"/>
<line x1="79.43" y1="390.44" x2="79.43" y2="393.46" stroke="#a8304f" stroke-width="0.8"/>
<line x1="78.33" y1="390.44" x2="80.53" y2="390.44" stroke="#a8304f" stroke-width="0.8"/>
<line x1="78.33" y1="393.46" x2="80.53" y2="393.46" stroke="#a8304f" stroke-width="0.8"/>
<line x1="78.23" y1="391.95" x2="80.63" y2="391.95" stroke="#a8304f" stroke-width="1.0"/>
<line x1="79.43" y1="390.75" x2="79.43" y2="393.15" stroke="#a8304f" stroke-width="1.0"/>
<line x1="123.98" y1="382.59" x2="123.98" y2="387.42" stroke="#a8304f" stroke-width="0.8"/>
<line x1="122.88" y1="382.59" x2="125.08" y2="382.59" stroke="#a8304f" stroke-width="0.8"/>
<line x1="122.88" y1="387.42" x2="125.08" y2="387.42" stroke="#a8304f" stroke-width="0.8"/>
<line x1="122.78" y1="385.00" x2="125.18" y2="385.00" stroke="#a8304f" stroke-width="1.0"/>
<line x1="123.98" y1="383.81" x2="123.98" y2="386.20" stroke="#a8304f" stroke-width="1.0"/>
<text x="212.40" y="353.50" font-size="8.6" text-anchor="middle" fill="#333" stroke="#333" stroke-width="0.12">K658Y</text>
<text x="212.40" y="365.50" font-size="8.0" text-anchor="middle" fill="#333" stroke="#333" stroke-width="0.12">Kd = 2,206 nM</text>
<line x1="167.20" y1="425.00" x2="167.20" y2="358.80" stroke="#333" stroke-width="1.1"/>
<line x1="164.20" y1="422.00" x2="167.20" y2="422.00" stroke="#333" stroke-width="1"/>
<text x="160.90" y="424.70" font-size="7.6" text-anchor="end" fill="#333" stroke="#333" stroke-width="0.12">0</text>
<line x1="164.20" y1="406.90" x2="167.20" y2="406.90" stroke="#333" stroke-width="1"/>
<text x="160.90" y="409.60" font-size="7.6" text-anchor="end" fill="#333" stroke="#333" stroke-width="0.12">1000</text>
<line x1="164.20" y1="391.80" x2="167.20" y2="391.80" stroke="#333" stroke-width="1"/>
<text x="160.90" y="394.50" font-size="7.6" text-anchor="end" fill="#333" stroke="#333" stroke-width="0.12">2000</text>
<line x1="164.20" y1="376.70" x2="167.20" y2="376.70" stroke="#333" stroke-width="1"/>
<text x="160.90" y="379.40" font-size="7.6" text-anchor="end" fill="#333" stroke="#333" stroke-width="0.12">3000</text>
<line x1="164.20" y1="361.60" x2="167.20" y2="361.60" stroke="#333" stroke-width="1"/>
<text x="160.90" y="364.30" font-size="7.6" text-anchor="end" fill="#333" stroke="#333" stroke-width="0.12">4000</text>
<line x1="164.20" y1="422.00" x2="257.70" y2="422.00" stroke="#333" stroke-width="1.1"/>
<line x1="167.20" y1="422.00" x2="167.20" y2="425.00" stroke="#333" stroke-width="1"/>
<text x="167.20" y="435.10" font-size="7.3" text-anchor="middle" fill="#333" stroke="#333" stroke-width="0.12">0</text>
<line x1="194.03" y1="422.00" x2="194.03" y2="425.00" stroke="#333" stroke-width="1"/>
<text x="194.03" y="435.10" font-size="7.3" text-anchor="middle" fill="#333" stroke="#333" stroke-width="0.12">5000</text>
<line x1="220.87" y1="422.00" x2="220.87" y2="425.00" stroke="#333" stroke-width="1"/>
<text x="220.87" y="435.10" font-size="7.3" text-anchor="middle" fill="#333" stroke="#333" stroke-width="0.12">10000</text>
<line x1="247.70" y1="422.00" x2="247.70" y2="425.00" stroke="#333" stroke-width="1"/>
<text x="247.70" y="435.10" font-size="7.3" text-anchor="middle" fill="#333" stroke="#333" stroke-width="0.12">15000</text>
<text x="212.40" y="447.00" font-size="8.3" text-anchor="middle" fill="#333" stroke="#333" stroke-width="0.12" textLength="36.0" lengthAdjust="spacingAndGlyphs">[STAT3] nM</text>
<text x="0" y="0" font-size="9.0" fill="#333" stroke="#333" stroke-width="0.12" text-anchor="middle" textLength="8.2" lengthAdjust="spacingAndGlyphs" transform="translate(138.30,390.40) rotate(-90)">RU</text>
<polyline points="167.20,422.00 167.32,421.50 167.55,420.63 167.85,419.54 168.20,418.31 168.59,417.00 169.03,415.63 169.51,414.25 170.02,412.86 170.56,411.48 171.14,410.13 171.74,408.81 172.38,407.53 173.04,406.30 173.72,405.10 174.43,403.96 175.17,402.87 175.93,401.82 176.71,400.81 177.51,399.86 178.34,398.95 179.18,398.08 180.05,397.25 180.93,396.46 181.84,395.70 182.76,394.99 183.71,394.30 184.67,393.65 185.65,393.03 186.64,392.44 187.66,391.87 188.69,391.33 189.74,390.82 190.80,390.32 191.88,389.85 192.98,389.40 194.09,388.97 195.22,388.56 196.36,388.17 197.52,387.79 198.70,387.43 199.89,387.08 201.09,386.75 202.31,386.43 203.54,386.12 204.78,385.83 206.04,385.55 207.32,385.27 208.60,385.01 209.90,384.76 211.22,384.52 212.55,384.28 213.89,384.06 215.24,383.84 216.60,383.63 217.98,383.43 219.37,383.23 220.78,383.04 222.19,382.86 223.62,382.68 225.06,382.51 226.52,382.35 227.98,382.19 229.46,382.03 230.95,381.89 232.45,381.74 233.96,381.60 235.48,381.46 237.01,381.33 238.56,381.20 240.12,381.08 241.68,380.96 243.26,380.84 244.85,380.73 246.45,380.62 248.07,380.51 249.69,380.40 251.32,380.30 252.97,380.20 254.62,380.11 256.29,380.01" fill="none" stroke="#a82346" stroke-width="1.1"/>
<line x1="171.37" y1="407.05" x2="173.77" y2="407.05" stroke="#a8304f" stroke-width="1.0"/>
<line x1="172.57" y1="405.85" x2="172.57" y2="408.25" stroke="#a8304f" stroke-width="1.0"/>
<line x1="177.93" y1="397.54" x2="177.93" y2="401.16" stroke="#a8304f" stroke-width="0.8"/>
<line x1="176.83" y1="397.54" x2="179.03" y2="397.54" stroke="#a8304f" stroke-width="0.8"/>
<line x1="176.83" y1="401.16" x2="179.03" y2="401.16" stroke="#a8304f" stroke-width="0.8"/>
<line x1="176.73" y1="399.35" x2="179.13" y2="399.35" stroke="#a8304f" stroke-width="1.0"/>
<line x1="177.93" y1="398.15" x2="177.93" y2="400.55" stroke="#a8304f" stroke-width="1.0"/>
<line x1="188.67" y1="388.93" x2="188.67" y2="394.97" stroke="#a8304f" stroke-width="0.8"/>
<line x1="187.57" y1="388.93" x2="189.77" y2="388.93" stroke="#a8304f" stroke-width="0.8"/>
<line x1="187.57" y1="394.97" x2="189.77" y2="394.97" stroke="#a8304f" stroke-width="0.8"/>
<line x1="187.47" y1="391.95" x2="189.87" y2="391.95" stroke="#a8304f" stroke-width="1.0"/>
<line x1="188.67" y1="390.75" x2="188.67" y2="393.15" stroke="#a8304f" stroke-width="1.0"/>
<line x1="210.13" y1="380.48" x2="210.13" y2="388.63" stroke="#a8304f" stroke-width="0.8"/>
<line x1="209.03" y1="380.48" x2="211.23" y2="380.48" stroke="#a8304f" stroke-width="0.8"/>
<line x1="209.03" y1="388.63" x2="211.23" y2="388.63" stroke="#a8304f" stroke-width="0.8"/>
<line x1="208.93" y1="384.55" x2="211.33" y2="384.55" stroke="#a8304f" stroke-width="1.0"/>
<line x1="210.13" y1="383.35" x2="210.13" y2="385.75" stroke="#a8304f" stroke-width="1.0"/>
<line x1="256.29" y1="371.57" x2="256.29" y2="378.51" stroke="#a8304f" stroke-width="0.8"/>
<line x1="255.19" y1="371.57" x2="257.39" y2="371.57" stroke="#a8304f" stroke-width="0.8"/>
<line x1="255.19" y1="378.51" x2="257.39" y2="378.51" stroke="#a8304f" stroke-width="0.8"/>
<line x1="255.09" y1="375.04" x2="257.49" y2="375.04" stroke="#a8304f" stroke-width="1.0"/>
<line x1="256.29" y1="373.84" x2="256.29" y2="376.24" stroke="#a8304f" stroke-width="1.0"/>
<text x="343.40" y="353.50" font-size="8.6" text-anchor="middle" fill="#333" stroke="#333" stroke-width="0.12">D661Y</text>
<text x="343.40" y="365.50" font-size="8.0" text-anchor="middle" fill="#333" stroke="#333" stroke-width="0.12">Kd = 1,961 nM</text>
<line x1="298.20" y1="425.00" x2="298.20" y2="358.80" stroke="#333" stroke-width="1.1"/>
<line x1="295.20" y1="422.00" x2="298.20" y2="422.00" stroke="#333" stroke-width="1"/>
<text x="291.90" y="424.70" font-size="7.6" text-anchor="end" fill="#333" stroke="#333" stroke-width="0.12">0</text>
<line x1="295.20" y1="406.90" x2="298.20" y2="406.90" stroke="#333" stroke-width="1"/>
<text x="291.90" y="409.60" font-size="7.6" text-anchor="end" fill="#333" stroke="#333" stroke-width="0.12">1000</text>
<line x1="295.20" y1="391.80" x2="298.20" y2="391.80" stroke="#333" stroke-width="1"/>
<text x="291.90" y="394.50" font-size="7.6" text-anchor="end" fill="#333" stroke="#333" stroke-width="0.12">2000</text>
<line x1="295.20" y1="376.70" x2="298.20" y2="376.70" stroke="#333" stroke-width="1"/>
<text x="291.90" y="379.40" font-size="7.6" text-anchor="end" fill="#333" stroke="#333" stroke-width="0.12">3000</text>
<line x1="295.20" y1="361.60" x2="298.20" y2="361.60" stroke="#333" stroke-width="1"/>
<text x="291.90" y="364.30" font-size="7.6" text-anchor="end" fill="#333" stroke="#333" stroke-width="0.12">4000</text>
<line x1="295.20" y1="422.00" x2="388.70" y2="422.00" stroke="#333" stroke-width="1.1"/>
<line x1="298.20" y1="422.00" x2="298.20" y2="425.00" stroke="#333" stroke-width="1"/>
<text x="298.20" y="435.10" font-size="7.3" text-anchor="middle" fill="#333" stroke="#333" stroke-width="0.12">0</text>
<line x1="325.03" y1="422.00" x2="325.03" y2="425.00" stroke="#333" stroke-width="1"/>
<text x="325.03" y="435.10" font-size="7.3" text-anchor="middle" fill="#333" stroke="#333" stroke-width="0.12">5000</text>
<line x1="351.87" y1="422.00" x2="351.87" y2="425.00" stroke="#333" stroke-width="1"/>
<text x="351.87" y="435.10" font-size="7.3" text-anchor="middle" fill="#333" stroke="#333" stroke-width="0.12">10000</text>
<line x1="378.70" y1="422.00" x2="378.70" y2="425.00" stroke="#333" stroke-width="1"/>
<text x="378.70" y="435.10" font-size="7.3" text-anchor="middle" fill="#333" stroke="#333" stroke-width="0.12">15000</text>
<text x="343.40" y="447.00" font-size="8.3" text-anchor="middle" fill="#333" stroke="#333" stroke-width="0.12" textLength="36.0" lengthAdjust="spacingAndGlyphs">[STAT3] nM</text>
<text x="0" y="0" font-size="9.0" fill="#333" stroke="#333" stroke-width="0.12" text-anchor="middle" textLength="8.2" lengthAdjust="spacingAndGlyphs" transform="translate(269.30,390.40) rotate(-90)">RU</text>
<polyline points="298.20,422.00 298.32,421.28 298.55,420.00 298.84,418.42 299.18,416.65 299.58,414.77 300.01,412.83 300.48,410.87 300.98,408.92 301.52,407.00 302.09,405.12 302.69,403.30 303.31,401.55 303.97,399.86 304.64,398.25 305.35,396.71 306.07,395.24 306.82,393.84 307.59,392.50 308.39,391.24 309.20,390.03 310.04,388.89 310.89,387.81 311.77,386.78 312.66,385.80 313.58,384.87 314.51,383.99 315.46,383.15 316.42,382.35 317.41,381.59 318.41,380.87 319.43,380.18 320.47,379.53 321.52,378.91 322.59,378.31 323.67,377.74 324.77,377.20 325.88,376.68 327.01,376.19 328.16,375.72 329.32,375.26 330.49,374.83 331.68,374.41 332.88,374.02 334.10,373.63 335.33,373.27 336.58,372.92 337.83,372.58 339.10,372.25 340.39,371.94 341.69,371.64 343.00,371.35 344.32,371.08 345.66,370.81 347.01,370.55 348.37,370.30 349.75,370.06 351.13,369.83 352.53,369.60 353.94,369.39 355.37,369.18 356.80,368.98 358.25,368.78 359.71,368.59 361.18,368.41 362.66,368.23 364.15,368.06 365.66,367.90 367.17,367.74 368.70,367.58 370.24,367.43 371.79,367.28 373.35,367.14 374.92,367.00 376.50,366.87 378.09,366.74 379.70,366.61 381.31,366.49 382.93,366.37 384.57,366.25 386.21,366.14" fill="none" stroke="#a82346" stroke-width="1.1"/>
<line x1="299.68" y1="411.43" x2="302.08" y2="411.43" stroke="#a8304f" stroke-width="1.0"/>
<line x1="300.88" y1="410.23" x2="300.88" y2="412.63" stroke="#a8304f" stroke-width="1.0"/>
<line x1="302.37" y1="400.26" x2="304.77" y2="400.26" stroke="#a8304f" stroke-width="1.0"/>
<line x1="303.57" y1="399.06" x2="303.57" y2="401.46" stroke="#a8304f" stroke-width="1.0"/>
<line x1="308.93" y1="388.03" x2="308.93" y2="391.05" stroke="#a8304f" stroke-width="0.8"/>
<line x1="307.83" y1="388.03" x2="310.03" y2="388.03" stroke="#a8304f" stroke-width="0.8"/>
<line x1="307.83" y1="391.05" x2="310.03" y2="391.05" stroke="#a8304f" stroke-width="0.8"/>
<line x1="307.73" y1="389.54" x2="310.13" y2="389.54" stroke="#a8304f" stroke-width="1.0"/>
<line x1="308.93" y1="388.34" x2="308.93" y2="390.74" stroke="#a8304f" stroke-width="1.0"/>
<line x1="319.67" y1="377.00" x2="319.67" y2="383.04" stroke="#a8304f" stroke-width="0.8"/>
<line x1="318.57" y1="377.00" x2="320.77" y2="377.00" stroke="#a8304f" stroke-width="0.8"/>
<line x1="318.57" y1="383.04" x2="320.77" y2="383.04" stroke="#a8304f" stroke-width="0.8"/>
<line x1="318.47" y1="380.02" x2="320.87" y2="380.02" stroke="#a8304f" stroke-width="1.0"/>
<line x1="319.67" y1="378.82" x2="319.67" y2="381.22" stroke="#a8304f" stroke-width="1.0"/>
<line x1="341.13" y1="368.09" x2="341.13" y2="375.94" stroke="#a8304f" stroke-width="0.8"/>
<line x1="340.03" y1="368.09" x2="342.23" y2="368.09" stroke="#a8304f" stroke-width="0.8"/>
<line x1="340.03" y1="375.94" x2="342.23" y2="375.94" stroke="#a8304f" stroke-width="0.8"/>
<line x1="339.93" y1="372.02" x2="342.33" y2="372.02" stroke="#a8304f" stroke-width="1.0"/>
<line x1="341.13" y1="370.82" x2="341.13" y2="373.22" stroke="#a8304f" stroke-width="1.0"/>
<line x1="386.21" y1="362.05" x2="386.21" y2="370.51" stroke="#a8304f" stroke-width="0.8"/>
<line x1="385.11" y1="362.05" x2="387.31" y2="362.05" stroke="#a8304f" stroke-width="0.8"/>
<line x1="385.11" y1="370.51" x2="387.31" y2="370.51" stroke="#a8304f" stroke-width="0.8"/>
<line x1="385.01" y1="366.28" x2="387.41" y2="366.28" stroke="#a8304f" stroke-width="1.0"/>
<line x1="386.21" y1="365.08" x2="386.21" y2="367.48" stroke="#a8304f" stroke-width="1.0"/>
<text x="0.80" y="473.60" font-size="10.8" font-weight="bold" fill="#000">B</text>
<rect x="43.80" y="473.20" width="163.40" height="22.10" fill="#121212"/>
<text x="51.70" y="486.90" font-size="7.2" font-weight="bold" fill="#fff" textLength="28.5" lengthAdjust="spacingAndGlyphs">Mutation</text>
<text x="97.10" y="486.90" font-size="7.2" font-weight="bold" fill="#fff" textLength="13.8" lengthAdjust="spacingAndGlyphs">Type</text>
<text x="125.90" y="486.90" font-size="7.2" font-weight="bold" fill="#fff" textLength="25.1" lengthAdjust="spacingAndGlyphs">Kd (nM)</text>
<text x="164.30" y="486.90" font-size="7.2" font-weight="bold" fill="#fff" textLength="31.0" lengthAdjust="spacingAndGlyphs">Relative K</text>
<text x="196.00" y="488.90" font-size="4.6" font-weight="bold" fill="#fff">D</text>
<rect x="43.80" y="495.30" width="162.80" height="15.20" fill="url(#gg)"/>
<text x="65.70" y="506.30" font-size="7.2" text-anchor="middle" fill="#404040" stroke="#404040" stroke-width="0.06" textLength="10.12" lengthAdjust="spacingAndGlyphs">WT</text>
<text x="138.90" y="506.30" font-size="7.2" text-anchor="middle" fill="#404040" stroke="#404040" stroke-width="0.06" textLength="16.29" lengthAdjust="spacingAndGlyphs">4,758</text>
<text x="182.55" y="506.30" font-size="7.2" text-anchor="middle" fill="#404040" stroke="#404040" stroke-width="0.06" textLength="12.67" lengthAdjust="spacingAndGlyphs">1.00</text>
<rect x="43.80" y="510.50" width="162.80" height="14.85" fill="url(#gb)"/>
<text x="65.70" y="521.32" font-size="7.2" text-anchor="middle" fill="#404040" stroke="#404040" stroke-width="0.06" textLength="21.71" lengthAdjust="spacingAndGlyphs">R382W</text>
<text x="103.45" y="521.32" font-size="7.2" text-anchor="middle" fill="#404040" stroke="#404040" stroke-width="0.06" textLength="12.66" lengthAdjust="spacingAndGlyphs">LOF</text>
<text x="138.90" y="521.32" font-size="7.2" text-anchor="middle" fill="#404040" stroke="#404040" stroke-width="0.06" textLength="9.05" lengthAdjust="spacingAndGlyphs">NB</text>
<text x="182.55" y="521.32" font-size="7.2" text-anchor="middle" fill="#404040" stroke="#404040" stroke-width="0.06" textLength="2.17" lengthAdjust="spacingAndGlyphs">-</text>
<rect x="43.80" y="525.35" width="162.80" height="14.85" fill="url(#gr)"/>
<text x="65.70" y="536.17" font-size="7.2" text-anchor="middle" fill="#404040" stroke="#404040" stroke-width="0.06" textLength="23.9" lengthAdjust="spacingAndGlyphs">V463del</text>
<text x="103.45" y="536.17" font-size="7.2" text-anchor="middle" fill="#404040" stroke="#404040" stroke-width="0.06" textLength="12.66" lengthAdjust="spacingAndGlyphs">LOF</text>
<text x="138.90" y="536.17" font-size="7.2" text-anchor="middle" fill="#404040" stroke="#404040" stroke-width="0.06" textLength="9.05" lengthAdjust="spacingAndGlyphs">NB</text>
<text x="182.55" y="536.17" font-size="7.2" text-anchor="middle" fill="#404040" stroke="#404040" stroke-width="0.06" textLength="2.17" lengthAdjust="spacingAndGlyphs">-</text>
<rect x="43.80" y="540.19" width="162.80" height="14.85" fill="url(#gp)"/>
<text x="65.70" y="551.01" font-size="7.2" text-anchor="middle" fill="#404040" stroke="#404040" stroke-width="0.06" textLength="20.63" lengthAdjust="spacingAndGlyphs">R423Q</text>
<text x="103.45" y="551.01" font-size="7.2" text-anchor="middle" fill="#404040" stroke="#404040" stroke-width="0.06" textLength="12.66" lengthAdjust="spacingAndGlyphs">LOF</text>
<text x="138.90" y="551.01" font-size="7.2" text-anchor="middle" fill="#404040" stroke="#404040" stroke-width="0.06" textLength="19.92" lengthAdjust="spacingAndGlyphs">50,907</text>
<text x="182.55" y="551.01" font-size="7.2" text-anchor="middle" fill="#404040" stroke="#404040" stroke-width="0.06" textLength="16.29" lengthAdjust="spacingAndGlyphs">10.70</text>
<rect x="43.80" y="555.04" width="162.80" height="14.85" fill="url(#gn)"/>
<text x="65.70" y="565.86" font-size="7.2" text-anchor="middle" fill="#404040" stroke="#404040" stroke-width="0.06" textLength="20.63" lengthAdjust="spacingAndGlyphs">Q344H</text>
<text x="103.45" y="565.86" font-size="7.2" text-anchor="middle" fill="#404040" stroke="#404040" stroke-width="0.06" textLength="14.11" lengthAdjust="spacingAndGlyphs">GOF</text>
<text x="138.90" y="565.86" font-size="7.2" text-anchor="middle" fill="#404040" stroke="#404040" stroke-width="0.06" textLength="16.29" lengthAdjust="spacingAndGlyphs">2,151</text>
<text x="182.55" y="565.86" font-size="7.2" text-anchor="middle" fill="#404040" stroke="#404040" stroke-width="0.06" textLength="12.67" lengthAdjust="spacingAndGlyphs">0.45</text>
<rect x="43.80" y="569.88" width="162.80" height="14.85" fill="url(#gb)"/>
<text x="65.70" y="580.71" font-size="7.2" text-anchor="middle" fill="#404040" stroke="#404040" stroke-width="0.06" textLength="19.55" lengthAdjust="spacingAndGlyphs">S636Y</text>
<text x="103.45" y="580.71" font-size="7.2" text-anchor="middle" fill="#404040" stroke="#404040" stroke-width="0.06" textLength="12.66" lengthAdjust="spacingAndGlyphs">LOF</text>
<text x="138.90" y="580.71" font-size="7.2" text-anchor="middle" fill="#404040" stroke="#404040" stroke-width="0.06" textLength="16.29" lengthAdjust="spacingAndGlyphs">6,165</text>
<text x="182.55" y="580.71" font-size="7.2" text-anchor="middle" fill="#404040" stroke="#404040" stroke-width="0.06" textLength="12.67" lengthAdjust="spacingAndGlyphs">1.30</text>
<rect x="43.80" y="584.73" width="162.80" height="14.85" fill="url(#gb)"/>
<text x="65.70" y="595.55" font-size="7.2" text-anchor="middle" fill="#404040" stroke="#404040" stroke-width="0.06" textLength="19.55" lengthAdjust="spacingAndGlyphs">S668Y</text>
<text x="103.45" y="595.55" font-size="7.2" text-anchor="middle" fill="#404040" stroke="#404040" stroke-width="0.06" textLength="12.66" lengthAdjust="spacingAndGlyphs">LOF</text>
<text x="138.90" y="595.55" font-size="7.2" text-anchor="middle" fill="#404040" stroke="#404040" stroke-width="0.06" textLength="16.29" lengthAdjust="spacingAndGlyphs">9,025</text>
<text x="182.55" y="595.55" font-size="7.2" text-anchor="middle" fill="#404040" stroke="#404040" stroke-width="0.06" textLength="12.67" lengthAdjust="spacingAndGlyphs">1.90</text>
<rect x="43.80" y="599.58" width="162.80" height="14.85" fill="url(#gr)"/>
<text x="65.70" y="610.40" font-size="7.2" text-anchor="middle" fill="#404040" stroke="#404040" stroke-width="0.06" textLength="16.65" lengthAdjust="spacingAndGlyphs">T622I</text>
<text x="103.45" y="610.40" font-size="7.2" text-anchor="middle" fill="#404040" stroke="#404040" stroke-width="0.06" textLength="12.66" lengthAdjust="spacingAndGlyphs">LOF</text>
<text x="138.90" y="610.40" font-size="7.2" text-anchor="middle" fill="#404040" stroke="#404040" stroke-width="0.06" textLength="19.92" lengthAdjust="spacingAndGlyphs">45,151</text>
<text x="182.55" y="610.40" font-size="7.2" text-anchor="middle" fill="#404040" stroke="#404040" stroke-width="0.06" textLength="12.67" lengthAdjust="spacingAndGlyphs">9.49</text>
<rect x="43.80" y="614.42" width="162.80" height="14.85" fill="url(#gr)"/>
<text x="65.70" y="625.25" font-size="7.2" text-anchor="middle" fill="#404040" stroke="#404040" stroke-width="0.06" textLength="19.55" lengthAdjust="spacingAndGlyphs">Y657S</text>
<text x="103.45" y="625.25" font-size="7.2" text-anchor="middle" fill="#404040" stroke="#404040" stroke-width="0.06" textLength="12.66" lengthAdjust="spacingAndGlyphs">LOF</text>
<text x="138.90" y="625.25" font-size="7.2" text-anchor="middle" fill="#404040" stroke="#404040" stroke-width="0.06" textLength="9.05" lengthAdjust="spacingAndGlyphs">NB</text>
<text x="182.55" y="625.25" font-size="7.2" text-anchor="middle" fill="#404040" stroke="#404040" stroke-width="0.06" textLength="2.17" lengthAdjust="spacingAndGlyphs">-</text>
<rect x="43.80" y="629.27" width="162.80" height="14.85" fill="url(#gp)"/>
<text x="65.70" y="640.09" font-size="7.2" text-anchor="middle" fill="#404040" stroke="#404040" stroke-width="0.06" textLength="20.63" lengthAdjust="spacingAndGlyphs">V637M</text>
<text x="103.45" y="640.09" font-size="7.2" text-anchor="middle" fill="#404040" stroke="#404040" stroke-width="0.06" textLength="12.66" lengthAdjust="spacingAndGlyphs">LOF</text>
<text x="138.90" y="640.09" font-size="7.2" text-anchor="middle" fill="#404040" stroke="#404040" stroke-width="0.06" textLength="19.92" lengthAdjust="spacingAndGlyphs">13,355</text>
<text x="182.55" y="640.09" font-size="7.2" text-anchor="middle" fill="#404040" stroke="#404040" stroke-width="0.06" textLength="12.67" lengthAdjust="spacingAndGlyphs">2.80</text>
<rect x="43.80" y="644.11" width="162.80" height="14.85" fill="url(#gp)"/>
<text x="65.70" y="654.94" font-size="7.2" text-anchor="middle" fill="#404040" stroke="#404040" stroke-width="0.06" textLength="20.27" lengthAdjust="spacingAndGlyphs">N647D</text>
<text x="103.45" y="654.94" font-size="7.2" text-anchor="middle" fill="#404040" stroke="#404040" stroke-width="0.06" textLength="12.66" lengthAdjust="spacingAndGlyphs">LOF</text>
<text x="138.90" y="654.94" font-size="7.2" text-anchor="middle" fill="#404040" stroke="#404040" stroke-width="0.06" textLength="19.92" lengthAdjust="spacingAndGlyphs">16,512</text>
<text x="182.55" y="654.94" font-size="7.2" text-anchor="middle" fill="#404040" stroke="#404040" stroke-width="0.06" textLength="12.67" lengthAdjust="spacingAndGlyphs">3.47</text>
<rect x="43.80" y="658.96" width="162.80" height="14.85" fill="url(#gn)"/>
<text x="65.70" y="669.78" font-size="7.2" text-anchor="middle" fill="#404040" stroke="#404040" stroke-width="0.06" textLength="19.18" lengthAdjust="spacingAndGlyphs">Y640F</text>
<text x="103.45" y="669.78" font-size="7.2" text-anchor="middle" fill="#404040" stroke="#404040" stroke-width="0.06" textLength="14.11" lengthAdjust="spacingAndGlyphs">GOF</text>
<text x="138.90" y="669.78" font-size="7.2" text-anchor="middle" fill="#404040" stroke="#404040" stroke-width="0.06" textLength="16.29" lengthAdjust="spacingAndGlyphs">4,129</text>
<text x="182.55" y="669.78" font-size="7.2" text-anchor="middle" fill="#404040" stroke="#404040" stroke-width="0.06" textLength="12.67" lengthAdjust="spacingAndGlyphs">0.87</text>
<rect x="43.80" y="673.81" width="162.80" height="14.85" fill="url(#gn)"/>
<text x="65.70" y="684.63" font-size="7.2" text-anchor="middle" fill="#404040" stroke="#404040" stroke-width="0.06" textLength="19.55" lengthAdjust="spacingAndGlyphs">K658Y</text>
<text x="103.45" y="684.63" font-size="7.2" text-anchor="middle" fill="#404040" stroke="#404040" stroke-width="0.06" textLength="14.11" lengthAdjust="spacingAndGlyphs">GOF</text>
<text x="138.90" y="684.63" font-size="7.2" text-anchor="middle" fill="#404040" stroke="#404040" stroke-width="0.06" textLength="16.29" lengthAdjust="spacingAndGlyphs">2,206</text>
<text x="182.55" y="684.63" font-size="7.2" text-anchor="middle" fill="#404040" stroke="#404040" stroke-width="0.06" textLength="12.67" lengthAdjust="spacingAndGlyphs">0.47</text>
<rect x="43.80" y="688.65" width="162.80" height="14.85" fill="url(#gn)"/>
<text x="65.70" y="699.48" font-size="7.2" text-anchor="middle" fill="#404040" stroke="#404040" stroke-width="0.06" textLength="19.91" lengthAdjust="spacingAndGlyphs">D661Y</text>
<text x="103.45" y="699.48" font-size="7.2" text-anchor="middle" fill="#404040" stroke="#404040" stroke-width="0.06" textLength="14.11" lengthAdjust="spacingAndGlyphs">GOF</text>
<text x="138.90" y="699.48" font-size="7.2" text-anchor="middle" fill="#404040" stroke="#404040" stroke-width="0.06" textLength="16.29" lengthAdjust="spacingAndGlyphs">1,961</text>
<text x="182.55" y="699.48" font-size="7.2" text-anchor="middle" fill="#404040" stroke="#404040" stroke-width="0.06" textLength="12.67" lengthAdjust="spacingAndGlyphs">0.41</text>
<line x1="43.80" y1="510.50" x2="206.60" y2="510.50" stroke="#2c3e58" stroke-width="1.5"/>
<line x1="43.80" y1="525.35" x2="206.60" y2="525.35" stroke="#4a2a2c" stroke-width="1.5"/>
<line x1="43.80" y1="540.19" x2="206.60" y2="540.19" stroke="#3a2f55" stroke-width="1.5"/>
<line x1="43.80" y1="555.04" x2="206.60" y2="555.04" stroke="#334a33" stroke-width="1.5"/>
<line x1="43.80" y1="569.88" x2="206.60" y2="569.88" stroke="#2c3e58" stroke-width="1.5"/>
<line x1="43.80" y1="584.73" x2="206.60" y2="584.73" stroke="#2c3e58" stroke-width="1.5"/>
<line x1="43.80" y1="599.58" x2="206.60" y2="599.58" stroke="#4a2a2c" stroke-width="1.5"/>
<line x1="43.80" y1="614.42" x2="206.60" y2="614.42" stroke="#4a2a2c" stroke-width="1.5"/>
<line x1="43.80" y1="629.27" x2="206.60" y2="629.27" stroke="#3a2f55" stroke-width="1.5"/>
<line x1="43.80" y1="644.11" x2="206.60" y2="644.11" stroke="#3a2f55" stroke-width="1.5"/>
<line x1="43.80" y1="658.96" x2="206.60" y2="658.96" stroke="#334a33" stroke-width="1.5"/>
<line x1="43.80" y1="673.81" x2="206.60" y2="673.81" stroke="#334a33" stroke-width="1.5"/>
<line x1="43.80" y1="688.65" x2="206.60" y2="688.65" stroke="#334a33" stroke-width="1.5"/>
<line x1="87.60" y1="495.30" x2="87.60" y2="703.50" stroke="#2d3136" stroke-width="1.25"/>
<line x1="119.30" y1="495.30" x2="119.30" y2="703.50" stroke="#2d3136" stroke-width="1.25"/>
<line x1="158.50" y1="495.30" x2="158.50" y2="703.50" stroke="#2d3136" stroke-width="1.25"/>
<line x1="44.10" y1="495.30" x2="44.10" y2="703.50" stroke="#3a4a60" stroke-width="1.1"/>
<line x1="206.60" y1="495.30" x2="206.60" y2="703.50" stroke="#2d3136" stroke-width="1.1"/>
<rect x="26.1" y="510.5" width="17.70" height="58.90" fill="#fff" stroke="#2e4c78" stroke-width="1.2"/>
<text x="0" y="0" font-size="9" fill="#333" stroke="#333" stroke-width="0.2" text-anchor="middle" textLength="17.8" lengthAdjust="spacingAndGlyphs" transform="translate(39.7,542.20) rotate(-90)">DBD</text>
<rect x="26.1" y="569.4" width="17.70" height="134.10" fill="#fff" stroke="#2e4c78" stroke-width="1.2"/>
<text x="0" y="0" font-size="9" fill="#333" stroke="#333" stroke-width="0.2" text-anchor="middle" textLength="22.3" lengthAdjust="spacingAndGlyphs" transform="translate(39.7,636.40) rotate(-90)">SH2D</text>
<line x1="26.10" y1="703.50" x2="206.60" y2="703.50" stroke="#2e4c78" stroke-width="1.2"/>
<line x1="43.80" y1="510.50" x2="206.60" y2="510.50" stroke="#2e4c78" stroke-width="1.2"/>
<line x1="43.80" y1="569.40" x2="206.60" y2="569.40" stroke="#2e4c78" stroke-width="1.2"/>
<text x="222.80" y="474.60" font-size="11.0" font-weight="bold" fill="#000">C</text>
<line x1="258.80" y1="482.50" x2="258.80" y2="637.00" stroke="#4d4d4d" stroke-width="1.1"/>
<line x1="258.80" y1="636.50" x2="490.20" y2="636.50" stroke="#4d4d4d" stroke-width="1.2"/>
<line x1="255.80" y1="636.50" x2="258.80" y2="636.50" stroke="#4d4d4d" stroke-width="1"/>
<text x="252.80" y="639.10" font-size="7.4" text-anchor="end" fill="#333" stroke="#333" stroke-width="0.12">0</text>
<line x1="255.80" y1="575.45" x2="258.80" y2="575.45" stroke="#4d4d4d" stroke-width="1"/>
<text x="252.80" y="578.05" font-size="7.4" text-anchor="end" fill="#333" stroke="#333" stroke-width="0.12">1</text>
<line x1="255.80" y1="514.40" x2="258.80" y2="514.40" stroke="#4d4d4d" stroke-width="1"/>
<text x="252.80" y="517.00" font-size="7.4" text-anchor="end" fill="#333" stroke="#333" stroke-width="0.12">2</text>
<text x="0" y="0" font-size="8.8" fill="#333" stroke="#333" stroke-width="0.12" text-anchor="middle" textLength="74.4" lengthAdjust="spacingAndGlyphs" transform="translate(243.4,559) rotate(-90)">Absorbance (450nm)</text>
<line x1="262.90" y1="627.20" x2="262.90" y2="629.80" stroke="#7a1020" stroke-width="0.8"/>
<line x1="261.80" y1="627.20" x2="264.00" y2="627.20" stroke="#7a1020" stroke-width="0.9"/>
<rect x="261.05" y="629.80" width="3.7" height="6.70" fill="#d0102c"/>
<line x1="268.85" y1="596.30" x2="268.85" y2="601.50" stroke="#1a2a40" stroke-width="0.8"/>
<line x1="267.75" y1="596.30" x2="269.95" y2="596.30" stroke="#1a2a40" stroke-width="0.9"/>
<rect x="267.00" y="601.50" width="3.7" height="35.00" fill="#1c4f8e"/>
<line x1="265.85" y1="636.50" x2="265.85" y2="639.50" stroke="#4d4d4d" stroke-width="1"/>
<text x="0" y="0" font-size="7.3" fill="#1a1a1a" stroke="#1a1a1a" stroke-width="0.12" text-anchor="end" textLength="12.13" lengthAdjust="spacingAndGlyphs" transform="translate(268.85,646.30) rotate(-58)">WT</text>
<line x1="277.38" y1="628.70" x2="277.38" y2="631.00" stroke="#7a1020" stroke-width="0.8"/>
<line x1="276.28" y1="628.70" x2="278.48" y2="628.70" stroke="#7a1020" stroke-width="0.9"/>
<rect x="275.53" y="631.00" width="3.7" height="5.50" fill="#d0102c"/>
<line x1="283.33" y1="626.00" x2="283.33" y2="628.70" stroke="#1a2a40" stroke-width="0.8"/>
<line x1="282.23" y1="626.00" x2="284.43" y2="626.00" stroke="#1a2a40" stroke-width="0.9"/>
<rect x="281.48" y="628.70" width="3.7" height="7.80" fill="#1c4f8e"/>
<line x1="280.33" y1="636.50" x2="280.33" y2="639.50" stroke="#4d4d4d" stroke-width="1"/>
<text x="0" y="0" font-size="7.3" fill="#436d9e" stroke="#436d9e" stroke-width="0.12" text-anchor="end" textLength="26.01" lengthAdjust="spacingAndGlyphs" transform="translate(283.33,646.30) rotate(-58)">R382W</text>
<line x1="291.86" y1="629.60" x2="291.86" y2="630.60" stroke="#7a1020" stroke-width="0.8"/>
<line x1="290.76" y1="629.60" x2="292.96" y2="629.60" stroke="#7a1020" stroke-width="0.9"/>
<rect x="290.01" y="630.60" width="3.7" height="5.90" fill="#d0102c"/>
<line x1="297.81" y1="627.20" x2="297.81" y2="629.80" stroke="#1a2a40" stroke-width="0.8"/>
<line x1="296.71" y1="627.20" x2="298.91" y2="627.20" stroke="#1a2a40" stroke-width="0.9"/>
<rect x="295.96" y="629.80" width="3.7" height="6.70" fill="#1c4f8e"/>
<line x1="294.81" y1="636.50" x2="294.81" y2="639.50" stroke="#4d4d4d" stroke-width="1"/>
<text x="0" y="0" font-size="7.3" fill="#d23446" stroke="#d23446" stroke-width="0.12" text-anchor="end" textLength="22.98" lengthAdjust="spacingAndGlyphs" transform="translate(297.81,646.30) rotate(-58)">F384S</text>
<line x1="306.34" y1="627.20" x2="306.34" y2="628.70" stroke="#7a1020" stroke-width="0.8"/>
<line x1="305.24" y1="627.20" x2="307.44" y2="627.20" stroke="#7a1020" stroke-width="0.9"/>
<rect x="304.49" y="628.70" width="3.7" height="7.80" fill="#d0102c"/>
<line x1="312.29" y1="622.10" x2="312.29" y2="624.60" stroke="#1a2a40" stroke-width="0.8"/>
<line x1="311.19" y1="622.10" x2="313.39" y2="622.10" stroke="#1a2a40" stroke-width="0.9"/>
<rect x="310.44" y="624.60" width="3.7" height="11.90" fill="#1c4f8e"/>
<line x1="309.29" y1="636.50" x2="309.29" y2="639.50" stroke="#4d4d4d" stroke-width="1"/>
<text x="0" y="0" font-size="7.3" fill="#d23446" stroke="#d23446" stroke-width="0.12" text-anchor="end" textLength="23.85" lengthAdjust="spacingAndGlyphs" transform="translate(312.29,646.30) rotate(-58)">H437P</text>
<line x1="320.82" y1="619.50" x2="320.82" y2="621.30" stroke="#7a1020" stroke-width="0.8"/>
<line x1="319.72" y1="619.50" x2="321.92" y2="619.50" stroke="#7a1020" stroke-width="0.9"/>
<rect x="318.97" y="621.30" width="3.7" height="15.20" fill="#d0102c"/>
<line x1="326.77" y1="612.50" x2="326.77" y2="617.00" stroke="#1a2a40" stroke-width="0.8"/>
<line x1="325.67" y1="612.50" x2="327.87" y2="612.50" stroke="#1a2a40" stroke-width="0.9"/>
<rect x="324.92" y="617.00" width="3.7" height="19.50" fill="#1c4f8e"/>
<line x1="323.77" y1="636.50" x2="323.77" y2="639.50" stroke="#4d4d4d" stroke-width="1"/>
<text x="0" y="0" font-size="7.3" fill="#d23446" stroke="#d23446" stroke-width="0.12" text-anchor="end" textLength="28.62" lengthAdjust="spacingAndGlyphs" transform="translate(326.77,646.30) rotate(-58)">V463del</text>
<line x1="335.30" y1="631.50" x2="335.30" y2="632.00" stroke="#7a1020" stroke-width="0.8"/>
<line x1="334.20" y1="631.50" x2="336.40" y2="631.50" stroke="#7a1020" stroke-width="0.9"/>
<rect x="333.45" y="632.00" width="3.7" height="4.50" fill="#d0102c"/>
<line x1="341.25" y1="616.50" x2="341.25" y2="620.20" stroke="#1a2a40" stroke-width="0.8"/>
<line x1="340.15" y1="616.50" x2="342.35" y2="616.50" stroke="#1a2a40" stroke-width="0.9"/>
<rect x="339.40" y="620.20" width="3.7" height="16.30" fill="#1c4f8e"/>
<line x1="338.25" y1="636.50" x2="338.25" y2="639.50" stroke="#4d4d4d" stroke-width="1"/>
<text x="0" y="0" font-size="7.3" fill="#4e3a78" stroke="#4e3a78" stroke-width="0.12" text-anchor="end" textLength="24.71" lengthAdjust="spacingAndGlyphs" transform="translate(341.25,646.30) rotate(-58)">R423Q</text>
<line x1="349.78" y1="624.50" x2="349.78" y2="628.00" stroke="#7a1020" stroke-width="0.8"/>
<line x1="348.68" y1="624.50" x2="350.88" y2="624.50" stroke="#7a1020" stroke-width="0.9"/>
<rect x="347.93" y="628.00" width="3.7" height="8.50" fill="#d0102c"/>
<line x1="355.73" y1="600.60" x2="355.73" y2="606.90" stroke="#1a2a40" stroke-width="0.8"/>
<line x1="354.63" y1="600.60" x2="356.83" y2="600.60" stroke="#1a2a40" stroke-width="0.9"/>
<rect x="353.88" y="606.90" width="3.7" height="29.60" fill="#1c4f8e"/>
<line x1="352.73" y1="636.50" x2="352.73" y2="639.50" stroke="#4d4d4d" stroke-width="1"/>
<text x="0" y="0" font-size="7.3" fill="#c0cc96" stroke="#c0cc96" stroke-width="0.12" text-anchor="end" textLength="24.71" lengthAdjust="spacingAndGlyphs" transform="translate(355.73,646.30) rotate(-58)">Q344H</text>
<line x1="364.26" y1="624.00" x2="364.26" y2="626.50" stroke="#7a1020" stroke-width="0.8"/>
<line x1="363.16" y1="624.00" x2="365.36" y2="624.00" stroke="#7a1020" stroke-width="0.9"/>
<rect x="362.41" y="626.50" width="3.7" height="10.00" fill="#d0102c"/>
<line x1="370.21" y1="621.00" x2="370.21" y2="624.60" stroke="#1a2a40" stroke-width="0.8"/>
<line x1="369.11" y1="621.00" x2="371.31" y2="621.00" stroke="#1a2a40" stroke-width="0.9"/>
<rect x="368.36" y="624.60" width="3.7" height="11.90" fill="#1c4f8e"/>
<line x1="367.21" y1="636.50" x2="367.21" y2="639.50" stroke="#4d4d4d" stroke-width="1"/>
<text x="0" y="0" font-size="7.3" fill="#436d9e" stroke="#436d9e" stroke-width="0.12" text-anchor="end" textLength="23.42" lengthAdjust="spacingAndGlyphs" transform="translate(370.21,646.30) rotate(-58)">S636Y</text>
<line x1="378.74" y1="623.50" x2="378.74" y2="625.60" stroke="#7a1020" stroke-width="0.8"/>
<line x1="377.64" y1="623.50" x2="379.84" y2="623.50" stroke="#7a1020" stroke-width="0.9"/>
<rect x="376.89" y="625.60" width="3.7" height="10.90" fill="#d0102c"/>
<line x1="384.69" y1="619.50" x2="384.69" y2="623.80" stroke="#1a2a40" stroke-width="0.8"/>
<line x1="383.59" y1="619.50" x2="385.79" y2="619.50" stroke="#1a2a40" stroke-width="0.9"/>
<rect x="382.84" y="623.80" width="3.7" height="12.70" fill="#1c4f8e"/>
<line x1="381.69" y1="636.50" x2="381.69" y2="639.50" stroke="#4d4d4d" stroke-width="1"/>
<text x="0" y="0" font-size="7.3" fill="#436d9e" stroke="#436d9e" stroke-width="0.12" text-anchor="end" textLength="23.42" lengthAdjust="spacingAndGlyphs" transform="translate(384.69,646.30) rotate(-58)">S668Y</text>
<line x1="393.22" y1="619.00" x2="393.22" y2="620.80" stroke="#7a1020" stroke-width="0.8"/>
<line x1="392.12" y1="619.00" x2="394.32" y2="619.00" stroke="#7a1020" stroke-width="0.9"/>
<rect x="391.37" y="620.80" width="3.7" height="15.70" fill="#d0102c"/>
<line x1="399.17" y1="613.50" x2="399.17" y2="618.80" stroke="#1a2a40" stroke-width="0.8"/>
<line x1="398.07" y1="613.50" x2="400.27" y2="613.50" stroke="#1a2a40" stroke-width="0.9"/>
<rect x="397.32" y="618.80" width="3.7" height="17.70" fill="#1c4f8e"/>
<line x1="396.17" y1="636.50" x2="396.17" y2="639.50" stroke="#4d4d4d" stroke-width="1"/>
<text x="0" y="0" font-size="7.3" fill="#d23446" stroke="#d23446" stroke-width="0.12" text-anchor="end" textLength="19.94" lengthAdjust="spacingAndGlyphs" transform="translate(399.17,646.30) rotate(-58)">T622I</text>
<line x1="407.70" y1="630.00" x2="407.70" y2="630.80" stroke="#7a1020" stroke-width="0.8"/>
<line x1="406.60" y1="630.00" x2="408.80" y2="630.00" stroke="#7a1020" stroke-width="0.9"/>
<rect x="405.85" y="630.80" width="3.7" height="5.70" fill="#d0102c"/>
<line x1="413.65" y1="627.00" x2="413.65" y2="629.40" stroke="#1a2a40" stroke-width="0.8"/>
<line x1="412.55" y1="627.00" x2="414.75" y2="627.00" stroke="#1a2a40" stroke-width="0.9"/>
<rect x="411.80" y="629.40" width="3.7" height="7.10" fill="#1c4f8e"/>
<line x1="410.65" y1="636.50" x2="410.65" y2="639.50" stroke="#4d4d4d" stroke-width="1"/>
<text x="0" y="0" font-size="7.3" fill="#d23446" stroke="#d23446" stroke-width="0.12" text-anchor="end" textLength="23.42" lengthAdjust="spacingAndGlyphs" transform="translate(413.65,646.30) rotate(-58)">Y657S</text>
<line x1="422.18" y1="625.50" x2="422.18" y2="627.10" stroke="#7a1020" stroke-width="0.8"/>
<line x1="421.08" y1="625.50" x2="423.28" y2="625.50" stroke="#7a1020" stroke-width="0.9"/>
<rect x="420.33" y="627.10" width="3.7" height="9.40" fill="#d0102c"/>
<line x1="428.13" y1="624.00" x2="428.13" y2="626.70" stroke="#1a2a40" stroke-width="0.8"/>
<line x1="427.03" y1="624.00" x2="429.23" y2="624.00" stroke="#1a2a40" stroke-width="0.9"/>
<rect x="426.28" y="626.70" width="3.7" height="9.80" fill="#1c4f8e"/>
<line x1="425.13" y1="636.50" x2="425.13" y2="639.50" stroke="#4d4d4d" stroke-width="1"/>
<text x="0" y="0" font-size="7.3" fill="#4e3a78" stroke="#4e3a78" stroke-width="0.12" text-anchor="end" textLength="24.71" lengthAdjust="spacingAndGlyphs" transform="translate(428.13,646.30) rotate(-58)">V637M</text>
<line x1="436.66" y1="631.50" x2="436.66" y2="632.00" stroke="#7a1020" stroke-width="0.8"/>
<line x1="435.56" y1="631.50" x2="437.76" y2="631.50" stroke="#7a1020" stroke-width="0.9"/>
<rect x="434.81" y="632.00" width="3.7" height="4.50" fill="#d0102c"/>
<line x1="442.61" y1="625.00" x2="442.61" y2="628.50" stroke="#1a2a40" stroke-width="0.8"/>
<line x1="441.51" y1="625.00" x2="443.71" y2="625.00" stroke="#1a2a40" stroke-width="0.9"/>
<rect x="440.76" y="628.50" width="3.7" height="8.00" fill="#1c4f8e"/>
<line x1="439.61" y1="636.50" x2="439.61" y2="639.50" stroke="#4d4d4d" stroke-width="1"/>
<text x="0" y="0" font-size="7.3" fill="#4e3a78" stroke="#4e3a78" stroke-width="0.12" text-anchor="end" textLength="24.28" lengthAdjust="spacingAndGlyphs" transform="translate(442.61,646.30) rotate(-58)">N647D</text>
<line x1="451.14" y1="616.50" x2="451.14" y2="617.60" stroke="#7a1020" stroke-width="0.8"/>
<line x1="450.04" y1="616.50" x2="452.24" y2="616.50" stroke="#7a1020" stroke-width="0.9"/>
<rect x="449.29" y="617.60" width="3.7" height="18.90" fill="#d0102c"/>
<line x1="457.09" y1="531.20" x2="457.09" y2="537.20" stroke="#1a2a40" stroke-width="0.8"/>
<line x1="455.99" y1="531.20" x2="458.19" y2="531.20" stroke="#1a2a40" stroke-width="0.9"/>
<rect x="455.24" y="537.20" width="3.7" height="99.30" fill="#1c4f8e"/>
<line x1="454.09" y1="636.50" x2="454.09" y2="639.50" stroke="#4d4d4d" stroke-width="1"/>
<text x="0" y="0" font-size="7.3" fill="#c0cc96" stroke="#c0cc96" stroke-width="0.12" text-anchor="end" textLength="22.98" lengthAdjust="spacingAndGlyphs" transform="translate(457.09,646.30) rotate(-58)">Y640F</text>
<line x1="465.62" y1="619.80" x2="465.62" y2="621.60" stroke="#7a1020" stroke-width="0.8"/>
<line x1="464.52" y1="619.80" x2="466.72" y2="619.80" stroke="#7a1020" stroke-width="0.9"/>
<rect x="463.77" y="621.60" width="3.7" height="14.90" fill="#d0102c"/>
<line x1="471.57" y1="546.90" x2="471.57" y2="554.80" stroke="#1a2a40" stroke-width="0.8"/>
<line x1="470.47" y1="546.90" x2="472.67" y2="546.90" stroke="#1a2a40" stroke-width="0.9"/>
<rect x="469.72" y="554.80" width="3.7" height="81.70" fill="#1c4f8e"/>
<line x1="468.57" y1="636.50" x2="468.57" y2="639.50" stroke="#4d4d4d" stroke-width="1"/>
<text x="0" y="0" font-size="7.3" fill="#c0cc96" stroke="#c0cc96" stroke-width="0.12" text-anchor="end" textLength="23.42" lengthAdjust="spacingAndGlyphs" transform="translate(471.57,646.30) rotate(-58)">K658Y</text>
<line x1="480.10" y1="609.60" x2="480.10" y2="610.60" stroke="#7a1020" stroke-width="0.8"/>
<line x1="479.00" y1="609.60" x2="481.20" y2="609.60" stroke="#7a1020" stroke-width="0.9"/>
<rect x="478.25" y="610.60" width="3.7" height="25.90" fill="#d0102c"/>
<line x1="486.05" y1="499.40" x2="486.05" y2="516.30" stroke="#1a2a40" stroke-width="0.8"/>
<line x1="484.95" y1="499.40" x2="487.15" y2="499.40" stroke="#1a2a40" stroke-width="0.9"/>
<rect x="484.20" y="516.30" width="3.7" height="120.20" fill="#1c4f8e"/>
<line x1="483.05" y1="636.50" x2="483.05" y2="639.50" stroke="#4d4d4d" stroke-width="1"/>
<text x="0" y="0" font-size="7.3" fill="#c0cc96" stroke="#c0cc96" stroke-width="0.12" text-anchor="end" textLength="23.85" lengthAdjust="spacingAndGlyphs" transform="translate(486.05,646.30) rotate(-58)">D661Y</text>
<line x1="269.80" y1="477.90" x2="477.30" y2="477.90" stroke="#555" stroke-width="1.1"/>
<line x1="269.80" y1="477.40" x2="269.80" y2="584.40" stroke="#555" stroke-width="1.1"/>
<line x1="477.30" y1="477.40" x2="477.30" y2="494.60" stroke="#555" stroke-width="1.1"/>
<line x1="458.50" y1="494.60" x2="493.10" y2="494.60" stroke="#555" stroke-width="1.1"/>
<text x="353" y="475" font-size="8.4" fill="#222" stroke="#222" stroke-width="0.12" textLength="39.7" lengthAdjust="spacingAndGlyphs">*<tspan font-style="italic">P</tspan> &lt; .0001</text>
<rect x="425.30" y="495.10" width="6.50" height="5.60" fill="#d0102c"/>
<rect x="425.50" y="505.90" width="6.30" height="6.20" fill="#1c4f8e"/>
<text x="438.00" y="500.60" font-size="7.4" fill="#333" stroke="#333" stroke-width="0.12" textLength="13.4" lengthAdjust="spacingAndGlyphs">–IL6</text>
<text x="438.70" y="511.50" font-size="7.4" fill="#333" stroke="#333" stroke-width="0.12" textLength="13.9" lengthAdjust="spacingAndGlyphs">+IL6</text>
<line x1="265.50" y1="675.80" x2="347.30" y2="675.80" stroke="#ab4a64" stroke-width="2.0"/>
<line x1="355.80" y1="675.80" x2="483.10" y2="675.80" stroke="#ab4a64" stroke-width="2.0"/>
<text x="267.50" y="689.20" font-size="8.4" fill="#333" stroke="#333" stroke-width="0.12" textLength="78.7" lengthAdjust="spacingAndGlyphs">DNA Binding domain</text>
<text x="396.70" y="689.20" font-size="8.4" fill="#333" stroke="#333" stroke-width="0.12" textLength="44.7" lengthAdjust="spacingAndGlyphs">SH2 domain</text>
<rect x="273.50" y="697.8" width="11.1" height="6.2" fill="#1f4c86" stroke="#0d2a50" stroke-width="1"/>
<text x="289.80" y="703.90" font-size="8.3" fill="#333" stroke="#333" stroke-width="0.12" textLength="24.7" lengthAdjust="spacingAndGlyphs">LOF - F</text>
<rect x="327.80" y="697.8" width="11.1" height="6.2" fill="#d3132d" stroke="#7a0a18" stroke-width="1"/>
<text x="343.80" y="703.90" font-size="8.3" fill="#333" stroke="#333" stroke-width="0.12" textLength="25.7" lengthAdjust="spacingAndGlyphs">LOF - S</text>
<rect x="381.90" y="697.8" width="11.1" height="6.2" fill="#5a2a70" stroke="#2a1238" stroke-width="1"/>
<text x="398.30" y="703.90" font-size="8.3" fill="#333" stroke="#333" stroke-width="0.12" textLength="31.5" lengthAdjust="spacingAndGlyphs">LOF - S/F</text>
<rect x="443.30" y="697.8" width="11.1" height="6.2" fill="#c5d99c" stroke="#5c6a40" stroke-width="1"/>
<text x="459.40" y="703.90" font-size="8.3" fill="#333" stroke="#333" stroke-width="0.12" textLength="16.2" lengthAdjust="spacingAndGlyphs">GOF</text>
</svg></body></html>
